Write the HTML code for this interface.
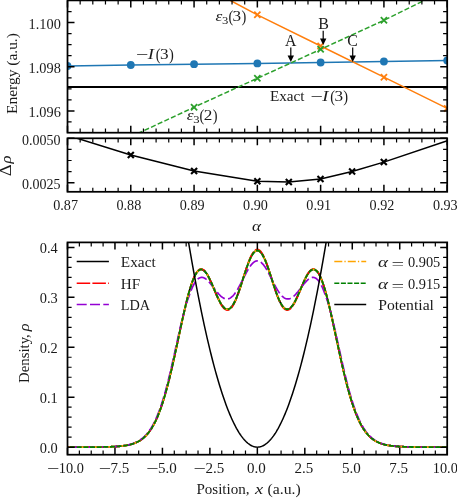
<!DOCTYPE html><html><head><meta charset="utf-8"><title>fig</title><style>html,body{margin:0;padding:0;background:#fff;}svg{display:block;will-change:transform;}text{font-family:"Liberation Serif",serif;fill:#1a1a1a;}</style></head><body>
<svg width="457" height="498" viewBox="0 0 457 498">
<rect x="0" y="0" width="457" height="498" fill="#fff"/>
<defs>
<clipPath id="c1"><rect x="67.5" y="0.4" width="379.7" height="132.29999999999998"/></clipPath>
<clipPath id="c2"><rect x="67.5" y="138.3" width="379.7" height="53.5"/></clipPath>
<clipPath id="c3"><rect x="67.5" y="242.4" width="379.7" height="212.29999999999998"/></clipPath>
</defs>
<g clip-path="url(#c1)">
<line x1="67.5" y1="87.05" x2="447.2" y2="87.05" stroke="#000" stroke-width="1.9"/>
<polyline points="67.50,66.0 130.78,65.0 194.07,64.2 257.35,63.4 320.63,62.5 383.92,61.5 447.20,60.5" fill="none" stroke="#1f77b4" stroke-width="1.5"/>
<circle cx="67.50" cy="66.0" r="3.9" fill="#1f77b4"/>
<circle cx="130.78" cy="65.0" r="3.9" fill="#1f77b4"/>
<circle cx="194.07" cy="64.2" r="3.9" fill="#1f77b4"/>
<circle cx="257.35" cy="63.4" r="3.9" fill="#1f77b4"/>
<circle cx="320.63" cy="62.5" r="3.9" fill="#1f77b4"/>
<circle cx="383.92" cy="61.5" r="3.9" fill="#1f77b4"/>
<circle cx="447.20" cy="60.5" r="3.9" fill="#1f77b4"/>
<polyline points="200.00,-15.90 230.50,0.50 257.35,14.80 320.63,46.00 383.92,77.20 447.20,108.40" fill="none" stroke="#ff7f0e" stroke-width="1.5"/>
<path d="M254.25 11.70L260.45 17.90M254.25 17.90L260.45 11.70" stroke="#ff7f0e" stroke-width="1.8" fill="none"/>
<path d="M317.53 42.90L323.73 49.10M317.53 49.10L323.73 42.90" stroke="#ff7f0e" stroke-width="1.8" fill="none"/>
<path d="M380.82 74.10L387.02 80.30M380.82 80.30L387.02 74.10" stroke="#ff7f0e" stroke-width="1.8" fill="none"/>
<path d="M444.10 105.30L450.30 111.50M444.10 111.50L450.30 105.30" stroke="#ff7f0e" stroke-width="1.8" fill="none"/>
<polyline points="100.00,151.30 139.50,132.70 194.07,107.20 257.35,78.30 320.63,49.30 383.92,20.30 424.00,0.50 447.20,-10.90" fill="none" stroke="#2ca02c" stroke-width="1.5" stroke-dasharray="5.1 2.25" stroke-dashoffset="2.4"/>
<path d="M190.97 104.10L197.17 110.30M190.97 110.30L197.17 104.10" stroke="#2ca02c" stroke-width="1.8" fill="none"/>
<path d="M254.25 75.20L260.45 81.40M254.25 81.40L260.45 75.20" stroke="#2ca02c" stroke-width="1.8" fill="none"/>
<path d="M317.53 46.20L323.73 52.40M317.53 52.40L323.73 46.20" stroke="#2ca02c" stroke-width="1.8" fill="none"/>
<path d="M380.82 17.20L387.02 23.40M380.82 23.40L387.02 17.20" stroke="#2ca02c" stroke-width="1.8" fill="none"/>
</g>
<line x1="290.8" y1="47.6" x2="290.8" y2="58.1" stroke="#000" stroke-width="1.2"/><path d="M287.6 55.6L294.0 55.6L290.8 62.1Z" fill="#000"/>
<line x1="323.2" y1="30.8" x2="323.2" y2="41.0" stroke="#000" stroke-width="1.2"/><path d="M320.0 38.5L326.4 38.5L323.2 45.0Z" fill="#000"/>
<line x1="352.7" y1="47.6" x2="352.7" y2="58.1" stroke="#000" stroke-width="1.2"/><path d="M349.5 55.6L355.9 55.6L352.7 62.1Z" fill="#000"/>
<text x="285.1" y="46.0" font-size="16.2" text-anchor="start" textLength="11.4" lengthAdjust="spacingAndGlyphs" >A</text>
<text x="318.34999999999997" y="28.7" font-size="16.2" text-anchor="start" textLength="10.7" lengthAdjust="spacingAndGlyphs" >B</text>
<text x="347.3" y="46.0" font-size="16.2" text-anchor="start" textLength="10.6" lengthAdjust="spacingAndGlyphs" >C</text>
<text x="136.0" y="59.8" font-size="15.6" text-anchor="start" textLength="12.4" lengthAdjust="spacingAndGlyphs" >−</text>
<text x="147.8" y="58.9" font-size="15.6" text-anchor="start" textLength="6.2" lengthAdjust="spacingAndGlyphs" ><tspan font-style="italic">I</tspan></text>
<text x="155.8" y="59.5" font-size="17.6" text-anchor="start" textLength="4.8" lengthAdjust="spacingAndGlyphs" >(</text>
<text x="160.0" y="58.9" font-size="15.6" text-anchor="start" textLength="8.6" lengthAdjust="spacingAndGlyphs" >3</text>
<text x="168.9" y="59.5" font-size="17.6" text-anchor="start" textLength="4.8" lengthAdjust="spacingAndGlyphs" >)</text>
<text x="215.6" y="21.0" font-size="15.6" text-anchor="start" textLength="6.8" lengthAdjust="spacingAndGlyphs" ><tspan font-style="italic">ε</tspan></text>
<text x="222.1" y="23.6" font-size="11" text-anchor="start" textLength="6.3" lengthAdjust="spacingAndGlyphs" >3</text>
<text x="228.4" y="21.6" font-size="17.6" text-anchor="start" textLength="4.8" lengthAdjust="spacingAndGlyphs" >(</text>
<text x="232.6" y="21.0" font-size="15.6" text-anchor="start" textLength="8.6" lengthAdjust="spacingAndGlyphs" >3</text>
<text x="241.5" y="21.6" font-size="17.6" text-anchor="start" textLength="4.8" lengthAdjust="spacingAndGlyphs" >)</text>
<text x="186.79999999999998" y="120.0" font-size="15.6" text-anchor="start" textLength="6.8" lengthAdjust="spacingAndGlyphs" ><tspan font-style="italic">ε</tspan></text>
<text x="193.29999999999998" y="122.6" font-size="11" text-anchor="start" textLength="6.3" lengthAdjust="spacingAndGlyphs" >3</text>
<text x="199.6" y="120.6" font-size="17.6" text-anchor="start" textLength="4.8" lengthAdjust="spacingAndGlyphs" >(</text>
<text x="203.79999999999998" y="120.0" font-size="15.6" text-anchor="start" textLength="8.6" lengthAdjust="spacingAndGlyphs" >2</text>
<text x="212.7" y="120.6" font-size="17.6" text-anchor="start" textLength="4.8" lengthAdjust="spacingAndGlyphs" >)</text>
<text x="269.9" y="101.1" font-size="15.6" text-anchor="start" textLength="34.6" lengthAdjust="spacingAndGlyphs" >Exact</text>
<text x="310.40000000000003" y="102.0" font-size="15.6" text-anchor="start" textLength="12.4" lengthAdjust="spacingAndGlyphs" >−</text>
<text x="322.2" y="101.1" font-size="15.6" text-anchor="start" textLength="6.2" lengthAdjust="spacingAndGlyphs" ><tspan font-style="italic">I</tspan></text>
<text x="330.20000000000005" y="101.69999999999999" font-size="17.6" text-anchor="start" textLength="4.8" lengthAdjust="spacingAndGlyphs" >(</text>
<text x="334.40000000000003" y="101.1" font-size="15.6" text-anchor="start" textLength="8.6" lengthAdjust="spacingAndGlyphs" >3</text>
<text x="343.3" y="101.69999999999999" font-size="17.6" text-anchor="start" textLength="4.8" lengthAdjust="spacingAndGlyphs" >)</text>
<g clip-path="url(#c2)">
<polyline points="67.5,135.3 130.8,155 194.1,171 257.35,181.2 288.8,182.0 320.5,179.0 352.1,171.5 383.8,162.1 447.3,140.8" fill="none" stroke="#000" stroke-width="1.5"/>
<path d="M127.80 152.00L133.80 158.00M127.80 158.00L133.80 152.00" stroke="#000" stroke-width="2.1" fill="none"/>
<path d="M191.10 168.00L197.10 174.00M191.10 174.00L197.10 168.00" stroke="#000" stroke-width="2.1" fill="none"/>
<path d="M254.35 178.20L260.35 184.20M254.35 184.20L260.35 178.20" stroke="#000" stroke-width="2.1" fill="none"/>
<path d="M285.80 179.00L291.80 185.00M285.80 185.00L291.80 179.00" stroke="#000" stroke-width="2.1" fill="none"/>
<path d="M317.50 176.00L323.50 182.00M317.50 182.00L323.50 176.00" stroke="#000" stroke-width="2.1" fill="none"/>
<path d="M349.10 168.50L355.10 174.50M349.10 174.50L355.10 168.50" stroke="#000" stroke-width="2.1" fill="none"/>
<path d="M380.80 159.10L386.80 165.10M380.80 165.10L386.80 159.10" stroke="#000" stroke-width="2.1" fill="none"/>
</g>
<g clip-path="url(#c3)">
<polyline points="67.50,447.15 67.97,447.15 68.45,447.15 68.92,447.15 69.40,447.15 69.87,447.15 70.35,447.15 70.82,447.15 71.30,447.15 71.77,447.15 72.25,447.15 72.72,447.15 73.20,447.15 73.67,447.15 74.14,447.15 74.62,447.15 75.09,447.15 75.57,447.15 76.04,447.14 76.52,447.14 76.99,447.14 77.47,447.14 77.94,447.14 78.42,447.14 78.89,447.14 79.37,447.14 79.84,447.14 80.31,447.14 80.79,447.14 81.26,447.14 81.74,447.14 82.21,447.14 82.69,447.14 83.16,447.14 83.64,447.13 84.11,447.13 84.59,447.13 85.06,447.13 85.54,447.13 86.01,447.13 86.49,447.13 86.96,447.13 87.43,447.12 87.91,447.12 88.38,447.12 88.86,447.12 89.33,447.12 89.81,447.12 90.28,447.11 90.76,447.11 91.23,447.11 91.71,447.11 92.18,447.10 92.66,447.10 93.13,447.10 93.60,447.10 94.08,447.09 94.55,447.09 95.03,447.09 95.50,447.08 95.98,447.08 96.45,447.07 96.93,447.07 97.40,447.06 97.88,447.06 98.35,447.05 98.83,447.05 99.30,447.04 99.77,447.04 100.25,447.03 100.72,447.03 101.20,447.02 101.67,447.01 102.15,447.00 102.62,447.00 103.10,446.99 103.57,446.98 104.05,446.97 104.52,446.96 105.00,446.95 105.47,446.94 105.94,446.93 106.42,446.92 106.89,446.90 107.37,446.89 107.84,446.88 108.32,446.86 108.79,446.85 109.27,446.83 109.74,446.82 110.22,446.80 110.69,446.78 111.17,446.76 111.64,446.74 112.11,446.72 112.59,446.70 113.06,446.68 113.54,446.66 114.01,446.63 114.49,446.60 114.96,446.58 115.44,446.55 115.91,446.52 116.39,446.49 116.86,446.46 117.34,446.42 117.81,446.39 118.28,446.35 118.76,446.31 119.23,446.27 119.71,446.23 120.18,446.18 120.66,446.13 121.13,446.08 121.61,446.03 122.08,445.98 122.56,445.92 123.03,445.86 123.51,445.80 123.98,445.74 124.46,445.67 124.93,445.60 125.40,445.52 125.88,445.45 126.35,445.36 126.83,445.28 127.30,445.19 127.78,445.10 128.25,445.00 128.73,444.90 129.20,444.79 129.68,444.68 130.15,444.56 130.63,444.44 131.10,444.31 131.57,444.17 132.05,444.03 132.52,443.89 133.00,443.73 133.47,443.57 133.95,443.40 134.42,443.23 134.90,443.05 135.37,442.85 135.85,442.65 136.32,442.44 136.80,442.23 137.27,442.00 137.74,441.76 138.22,441.51 138.69,441.25 139.17,440.98 139.64,440.70 140.12,440.41 140.59,440.10 141.07,439.78 141.54,439.45 142.02,439.10 142.49,438.74 142.97,438.36 143.44,437.97 143.91,437.56 144.39,437.13 144.86,436.69 145.34,436.23 145.81,435.76 146.29,435.26 146.76,434.74 147.24,434.21 147.71,433.65 148.19,433.08 148.66,432.48 149.14,431.86 149.61,431.22 150.08,430.55 150.56,429.86 151.03,429.15 151.51,428.41 151.98,427.64 152.46,426.85 152.93,426.03 153.41,425.19 153.88,424.32 154.36,423.42 154.83,422.49 155.31,421.53 155.78,420.54 156.25,419.52 156.73,418.47 157.20,417.39 157.68,416.28 158.15,415.13 158.63,413.96 159.10,412.75 159.58,411.51 160.05,410.23 160.53,408.93 161.00,407.59 161.48,406.21 161.95,404.80 162.43,403.36 162.90,401.89 163.37,400.38 163.85,398.84 164.32,397.26 164.80,395.65 165.27,394.01 165.75,392.33 166.22,390.62 166.70,388.88 167.17,387.11 167.65,385.31 168.12,383.47 168.60,381.61 169.07,379.72 169.54,377.80 170.02,375.85 170.49,373.87 170.97,371.87 171.44,369.85 171.92,367.80 172.39,365.72 172.87,363.63 173.34,361.52 173.82,359.39 174.29,357.24 174.77,355.07 175.24,352.89 175.71,350.70 176.19,348.50 176.66,346.29 177.14,344.07 177.61,341.84 178.09,339.62 178.56,337.39 179.04,335.16 179.51,332.93 179.99,330.71 180.46,328.49 180.94,326.28 181.41,324.09 181.88,321.90 182.36,319.74 182.83,317.59 183.31,315.46 183.78,313.35 184.26,311.27 184.73,309.21 185.21,307.18 185.68,305.19 186.16,303.23 186.63,301.30 187.11,299.41 187.58,297.57 188.05,295.76 188.53,294.00 189.00,292.29 189.48,290.63 189.95,289.02 190.43,287.46 190.90,285.96 191.38,284.51 191.85,283.12 192.33,281.79 192.80,280.53 193.28,279.32 193.75,278.19 194.22,277.11 194.70,276.11 195.17,275.17 195.65,274.30 196.12,273.50 196.60,272.78 197.07,272.12 197.55,271.54 198.02,271.02 198.50,270.58 198.97,270.21 199.45,269.92 199.92,269.69 200.40,269.54 200.87,269.45 201.34,269.44 201.82,269.50 202.29,269.62 202.77,269.82 203.24,270.08 203.72,270.40 204.19,270.78 204.67,271.23 205.14,271.74 205.62,272.30 206.09,272.92 206.57,273.60 207.04,274.32 207.51,275.09 207.99,275.91 208.46,276.77 208.94,277.67 209.41,278.61 209.89,279.58 210.36,280.58 210.84,281.61 211.31,282.66 211.79,283.73 212.26,284.83 212.74,285.93 213.21,287.04 213.68,288.17 214.16,289.29 214.63,290.41 215.11,291.53 215.58,292.65 216.06,293.75 216.53,294.83 217.01,295.90 217.48,296.95 217.96,297.97 218.43,298.96 218.91,299.93 219.38,300.86 219.85,301.75 220.33,302.60 220.80,303.41 221.28,304.18 221.75,304.90 222.23,305.57 222.70,306.19 223.18,306.76 223.65,307.28 224.13,307.73 224.60,308.13 225.08,308.48 225.55,308.76 226.02,308.98 226.50,309.14 226.97,309.23 227.45,309.27 227.92,309.24 228.40,309.14 228.87,308.98 229.35,308.75 229.82,308.46 230.30,308.10 230.77,307.68 231.25,307.20 231.72,306.65 232.19,306.03 232.67,305.36 233.14,304.62 233.62,303.82 234.09,302.96 234.57,302.04 235.04,301.07 235.52,300.05 235.99,298.97 236.47,297.84 236.94,296.67 237.42,295.45 237.89,294.19 238.37,292.90 238.84,291.57 239.31,290.20 239.79,288.81 240.26,287.40 240.74,285.96 241.21,284.50 241.69,283.03 242.16,281.56 242.64,280.07 243.11,278.59 243.59,277.10 244.06,275.62 244.54,274.16 245.01,272.70 245.48,271.26 245.96,269.85 246.43,268.46 246.91,267.10 247.38,265.77 247.86,264.47 248.33,263.22 248.81,262.01 249.28,260.85 249.76,259.73 250.23,258.67 250.71,257.66 251.18,256.71 251.65,255.81 252.13,254.98 252.60,254.22 253.08,253.52 253.55,252.89 254.03,252.33 254.50,251.84 254.98,251.43 255.45,251.09 255.93,250.82 256.40,250.63 256.88,250.52 257.35,250.48 257.82,250.52 258.30,250.63 258.77,250.82 259.25,251.09 259.72,251.43 260.20,251.84 260.67,252.33 261.15,252.89 261.62,253.52 262.10,254.22 262.57,254.98 263.05,255.81 263.52,256.71 263.99,257.66 264.47,258.67 264.94,259.73 265.42,260.85 265.89,262.01 266.37,263.22 266.84,264.47 267.32,265.77 267.79,267.10 268.27,268.46 268.74,269.85 269.22,271.26 269.69,272.70 270.16,274.16 270.64,275.62 271.11,277.10 271.59,278.59 272.06,280.07 272.54,281.56 273.01,283.03 273.49,284.50 273.96,285.96 274.44,287.40 274.91,288.81 275.39,290.20 275.86,291.57 276.34,292.90 276.81,294.19 277.28,295.45 277.76,296.67 278.23,297.84 278.71,298.97 279.18,300.05 279.66,301.07 280.13,302.04 280.61,302.96 281.08,303.82 281.56,304.62 282.03,305.36 282.51,306.03 282.98,306.65 283.45,307.20 283.93,307.68 284.40,308.10 284.88,308.46 285.35,308.75 285.83,308.98 286.30,309.14 286.78,309.24 287.25,309.27 287.73,309.23 288.20,309.14 288.68,308.98 289.15,308.76 289.62,308.48 290.10,308.13 290.57,307.73 291.05,307.28 291.52,306.76 292.00,306.19 292.47,305.57 292.95,304.90 293.42,304.18 293.90,303.41 294.37,302.60 294.85,301.75 295.32,300.86 295.79,299.93 296.27,298.96 296.74,297.97 297.22,296.95 297.69,295.90 298.17,294.83 298.64,293.75 299.12,292.65 299.59,291.53 300.07,290.41 300.54,289.29 301.02,288.17 301.49,287.04 301.96,285.93 302.44,284.83 302.91,283.73 303.39,282.66 303.86,281.61 304.34,280.58 304.81,279.58 305.29,278.61 305.76,277.67 306.24,276.77 306.71,275.91 307.19,275.09 307.66,274.32 308.13,273.60 308.61,272.92 309.08,272.30 309.56,271.74 310.03,271.23 310.51,270.78 310.98,270.40 311.46,270.08 311.93,269.82 312.41,269.62 312.88,269.50 313.36,269.44 313.83,269.45 314.31,269.54 314.78,269.69 315.25,269.92 315.73,270.21 316.20,270.58 316.68,271.02 317.15,271.54 317.63,272.12 318.10,272.78 318.58,273.50 319.05,274.30 319.53,275.17 320.00,276.11 320.48,277.11 320.95,278.19 321.42,279.32 321.90,280.53 322.37,281.79 322.85,283.12 323.32,284.51 323.80,285.96 324.27,287.46 324.75,289.02 325.22,290.63 325.70,292.29 326.17,294.00 326.65,295.76 327.12,297.57 327.59,299.41 328.07,301.30 328.54,303.23 329.02,305.19 329.49,307.18 329.97,309.21 330.44,311.27 330.92,313.35 331.39,315.46 331.87,317.59 332.34,319.74 332.82,321.90 333.29,324.09 333.76,326.28 334.24,328.49 334.71,330.71 335.19,332.93 335.66,335.16 336.14,337.39 336.61,339.62 337.09,341.84 337.56,344.07 338.04,346.29 338.51,348.50 338.99,350.70 339.46,352.89 339.93,355.07 340.41,357.24 340.88,359.39 341.36,361.52 341.83,363.63 342.31,365.72 342.78,367.80 343.26,369.85 343.73,371.87 344.21,373.87 344.68,375.85 345.16,377.80 345.63,379.72 346.10,381.61 346.58,383.47 347.05,385.31 347.53,387.11 348.00,388.88 348.48,390.62 348.95,392.33 349.43,394.01 349.90,395.65 350.38,397.26 350.85,398.84 351.33,400.38 351.80,401.89 352.28,403.36 352.75,404.80 353.22,406.21 353.70,407.59 354.17,408.93 354.65,410.23 355.12,411.51 355.60,412.75 356.07,413.96 356.55,415.13 357.02,416.28 357.50,417.39 357.97,418.47 358.45,419.52 358.92,420.54 359.39,421.53 359.87,422.49 360.34,423.42 360.82,424.32 361.29,425.19 361.77,426.03 362.24,426.85 362.72,427.64 363.19,428.41 363.67,429.15 364.14,429.86 364.62,430.55 365.09,431.22 365.56,431.86 366.04,432.48 366.51,433.08 366.99,433.65 367.46,434.21 367.94,434.74 368.41,435.26 368.89,435.76 369.36,436.23 369.84,436.69 370.31,437.13 370.79,437.56 371.26,437.97 371.73,438.36 372.21,438.74 372.68,439.10 373.16,439.45 373.63,439.78 374.11,440.10 374.58,440.41 375.06,440.70 375.53,440.98 376.01,441.25 376.48,441.51 376.96,441.76 377.43,442.00 377.90,442.23 378.38,442.44 378.85,442.65 379.33,442.85 379.80,443.05 380.28,443.23 380.75,443.40 381.23,443.57 381.70,443.73 382.18,443.89 382.65,444.03 383.13,444.17 383.60,444.31 384.07,444.44 384.55,444.56 385.02,444.68 385.50,444.79 385.97,444.90 386.45,445.00 386.92,445.10 387.40,445.19 387.87,445.28 388.35,445.36 388.82,445.45 389.30,445.52 389.77,445.60 390.25,445.67 390.72,445.74 391.19,445.80 391.67,445.86 392.14,445.92 392.62,445.98 393.09,446.03 393.57,446.08 394.04,446.13 394.52,446.18 394.99,446.23 395.47,446.27 395.94,446.31 396.42,446.35 396.89,446.39 397.36,446.42 397.84,446.46 398.31,446.49 398.79,446.52 399.26,446.55 399.74,446.58 400.21,446.60 400.69,446.63 401.16,446.66 401.64,446.68 402.11,446.70 402.59,446.72 403.06,446.74 403.53,446.76 404.01,446.78 404.48,446.80 404.96,446.82 405.43,446.83 405.91,446.85 406.38,446.86 406.86,446.88 407.33,446.89 407.81,446.90 408.28,446.92 408.76,446.93 409.23,446.94 409.70,446.95 410.18,446.96 410.65,446.97 411.13,446.98 411.60,446.99 412.08,447.00 412.55,447.00 413.03,447.01 413.50,447.02 413.98,447.03 414.45,447.03 414.93,447.04 415.40,447.04 415.87,447.05 416.35,447.05 416.82,447.06 417.30,447.06 417.77,447.07 418.25,447.07 418.72,447.08 419.20,447.08 419.67,447.09 420.15,447.09 420.62,447.09 421.10,447.10 421.57,447.10 422.04,447.10 422.52,447.10 422.99,447.11 423.47,447.11 423.94,447.11 424.42,447.11 424.89,447.12 425.37,447.12 425.84,447.12 426.32,447.12 426.79,447.12 427.27,447.12 427.74,447.13 428.22,447.13 428.69,447.13 429.16,447.13 429.64,447.13 430.11,447.13 430.59,447.13 431.06,447.13 431.54,447.14 432.01,447.14 432.49,447.14 432.96,447.14 433.44,447.14 433.91,447.14 434.39,447.14 434.86,447.14 435.33,447.14 435.81,447.14 436.28,447.14 436.76,447.14 437.23,447.14 437.71,447.14 438.18,447.14 438.66,447.14 439.13,447.15 439.61,447.15 440.08,447.15 440.56,447.15 441.03,447.15 441.50,447.15 441.98,447.15 442.45,447.15 442.93,447.15 443.40,447.15 443.88,447.15 444.35,447.15 444.83,447.15 445.30,447.15 445.78,447.15 446.25,447.15 446.73,447.15 447.20,447.15" fill="none" stroke="#000" stroke-width="1.8"/>
<polyline points="67.50,447.15 67.97,447.15 68.45,447.15 68.92,447.15 69.40,447.15 69.87,447.15 70.35,447.15 70.82,447.15 71.30,447.15 71.77,447.15 72.25,447.15 72.72,447.15 73.20,447.15 73.67,447.15 74.14,447.15 74.62,447.15 75.09,447.15 75.57,447.15 76.04,447.14 76.52,447.14 76.99,447.14 77.47,447.14 77.94,447.14 78.42,447.14 78.89,447.14 79.37,447.14 79.84,447.14 80.31,447.14 80.79,447.14 81.26,447.14 81.74,447.14 82.21,447.14 82.69,447.14 83.16,447.14 83.64,447.13 84.11,447.13 84.59,447.13 85.06,447.13 85.54,447.13 86.01,447.13 86.49,447.13 86.96,447.13 87.43,447.12 87.91,447.12 88.38,447.12 88.86,447.12 89.33,447.12 89.81,447.12 90.28,447.11 90.76,447.11 91.23,447.11 91.71,447.11 92.18,447.10 92.66,447.10 93.13,447.10 93.60,447.10 94.08,447.09 94.55,447.09 95.03,447.09 95.50,447.08 95.98,447.08 96.45,447.07 96.93,447.07 97.40,447.06 97.88,447.06 98.35,447.05 98.83,447.05 99.30,447.04 99.77,447.04 100.25,447.03 100.72,447.03 101.20,447.02 101.67,447.01 102.15,447.00 102.62,447.00 103.10,446.99 103.57,446.98 104.05,446.97 104.52,446.96 105.00,446.95 105.47,446.94 105.94,446.93 106.42,446.92 106.89,446.90 107.37,446.89 107.84,446.88 108.32,446.86 108.79,446.85 109.27,446.83 109.74,446.82 110.22,446.80 110.69,446.78 111.17,446.76 111.64,446.74 112.11,446.72 112.59,446.70 113.06,446.68 113.54,446.66 114.01,446.63 114.49,446.60 114.96,446.58 115.44,446.55 115.91,446.52 116.39,446.49 116.86,446.46 117.34,446.42 117.81,446.39 118.28,446.35 118.76,446.31 119.23,446.27 119.71,446.23 120.18,446.18 120.66,446.13 121.13,446.08 121.61,446.03 122.08,445.98 122.56,445.92 123.03,445.86 123.51,445.80 123.98,445.74 124.46,445.67 124.93,445.60 125.40,445.52 125.88,445.45 126.35,445.36 126.83,445.28 127.30,445.19 127.78,445.10 128.25,445.00 128.73,444.90 129.20,444.79 129.68,444.68 130.15,444.56 130.63,444.44 131.10,444.31 131.57,444.17 132.05,444.03 132.52,443.89 133.00,443.73 133.47,443.57 133.95,443.40 134.42,443.23 134.90,443.05 135.37,442.85 135.85,442.65 136.32,442.44 136.80,442.23 137.27,442.00 137.74,441.76 138.22,441.51 138.69,441.25 139.17,440.98 139.64,440.70 140.12,440.41 140.59,440.10 141.07,439.78 141.54,439.45 142.02,439.10 142.49,438.74 142.97,438.36 143.44,437.97 143.91,437.56 144.39,437.13 144.86,436.69 145.34,436.23 145.81,435.76 146.29,435.26 146.76,434.74 147.24,434.21 147.71,433.65 148.19,433.08 148.66,432.48 149.14,431.86 149.61,431.22 150.08,430.55 150.56,429.86 151.03,429.15 151.51,428.41 151.98,427.64 152.46,426.85 152.93,426.03 153.41,425.19 153.88,424.32 154.36,423.42 154.83,422.49 155.31,421.53 155.78,420.54 156.25,419.52 156.73,418.47 157.20,417.39 157.68,416.28 158.15,415.13 158.63,413.96 159.10,412.75 159.58,411.51 160.05,410.23 160.53,408.93 161.00,407.59 161.48,406.21 161.95,404.80 162.43,403.36 162.90,401.89 163.37,400.38 163.85,398.84 164.32,397.26 164.80,395.65 165.27,394.01 165.75,392.33 166.22,390.62 166.70,388.88 167.17,387.11 167.65,385.31 168.12,383.47 168.60,381.61 169.07,379.72 169.54,377.80 170.02,375.85 170.49,373.87 170.97,371.87 171.44,369.85 171.92,367.80 172.39,365.72 172.87,363.63 173.34,361.52 173.82,359.39 174.29,357.24 174.77,355.07 175.24,352.89 175.71,350.70 176.19,348.50 176.66,346.29 177.14,344.07 177.61,341.84 178.09,339.67 178.56,337.49 179.04,335.31 179.51,333.12 179.99,330.93 180.46,328.75 180.94,326.57 181.41,324.40 181.88,322.24 182.36,320.09 182.83,317.95 183.31,315.83 183.78,313.73 184.26,311.65 184.73,309.59 185.21,307.56 185.68,305.55 186.16,303.58 186.63,301.64 187.11,299.73 187.58,297.87 188.05,296.04 188.53,294.26 189.00,292.52 189.48,290.82 189.95,289.18 190.43,287.59 190.90,286.05 191.38,284.57 191.85,283.14 192.33,281.78 192.80,280.47 193.28,279.23 193.75,278.06 194.22,276.96 194.70,275.92 195.17,274.96 195.65,274.06 196.12,273.24 196.60,272.49 197.07,271.81 197.55,271.21 198.02,270.68 198.50,270.23 198.97,269.85 199.45,269.54 199.92,269.31 200.40,269.15 200.87,269.07 201.34,269.05 201.82,269.11 202.29,269.24 202.77,269.44 203.24,269.71 203.72,270.04 204.19,270.44 204.67,270.90 205.14,271.42 205.62,272.00 206.09,272.64 206.57,273.33 207.04,274.08 207.51,274.87 207.99,275.72 208.46,276.60 208.94,277.53 209.41,278.49 209.89,279.49 210.36,280.53 210.84,281.59 211.31,282.67 211.79,283.78 212.26,284.90 212.74,286.04 213.21,287.19 213.68,288.34 214.16,289.50 214.63,290.66 215.11,291.81 215.58,292.96 216.06,294.09 216.53,295.21 217.01,296.31 217.48,297.39 217.96,298.44 218.43,299.46 218.91,300.45 219.38,301.41 219.85,302.33 220.33,303.21 220.80,304.05 221.28,304.84 221.75,305.58 222.23,306.27 222.70,306.91 223.18,307.49 223.65,308.02 224.13,308.49 224.60,308.91 225.08,309.26 225.55,309.55 226.02,309.78 226.50,309.94 226.97,310.04 227.45,310.07 227.92,310.04 228.40,309.94 228.87,309.78 229.35,309.54 229.82,309.24 230.30,308.88 230.77,308.44 231.25,307.94 231.72,307.38 232.19,306.74 232.67,306.05 233.14,305.28 233.62,304.46 234.09,303.58 234.57,302.63 235.04,301.63 235.52,300.58 235.99,299.47 236.47,298.31 236.94,297.10 237.42,295.85 237.89,294.55 238.37,293.21 238.84,291.84 239.31,290.44 239.79,289.01 240.26,287.55 240.74,286.07 241.21,284.57 241.69,283.06 242.16,281.53 242.64,280.00 243.11,278.47 243.59,276.94 244.06,275.42 244.54,273.91 245.01,272.41 245.48,270.93 245.96,269.47 246.43,268.04 246.91,266.64 247.38,265.27 247.86,263.94 248.33,262.65 248.81,261.40 249.28,260.20 249.76,259.05 250.23,257.96 250.71,256.92 251.18,255.94 251.65,255.02 252.13,254.16 252.60,253.38 253.08,252.66 253.55,252.01 254.03,251.43 254.50,250.93 254.98,250.50 255.45,250.15 255.93,249.88 256.40,249.68 256.88,249.56 257.35,249.52 257.82,249.56 258.30,249.68 258.77,249.88 259.25,250.15 259.72,250.50 260.20,250.93 260.67,251.43 261.15,252.01 261.62,252.66 262.10,253.38 262.57,254.16 263.05,255.02 263.52,255.94 263.99,256.92 264.47,257.96 264.94,259.05 265.42,260.20 265.89,261.40 266.37,262.65 266.84,263.94 267.32,265.27 267.79,266.64 268.27,268.04 268.74,269.47 269.22,270.93 269.69,272.41 270.16,273.91 270.64,275.42 271.11,276.94 271.59,278.47 272.06,280.00 272.54,281.53 273.01,283.06 273.49,284.57 273.96,286.07 274.44,287.55 274.91,289.01 275.39,290.44 275.86,291.84 276.34,293.21 276.81,294.55 277.28,295.85 277.76,297.10 278.23,298.31 278.71,299.47 279.18,300.58 279.66,301.63 280.13,302.63 280.61,303.58 281.08,304.46 281.56,305.28 282.03,306.05 282.51,306.74 282.98,307.38 283.45,307.94 283.93,308.44 284.40,308.88 284.88,309.24 285.35,309.54 285.83,309.78 286.30,309.94 286.78,310.04 287.25,310.07 287.73,310.04 288.20,309.94 288.68,309.78 289.15,309.55 289.62,309.26 290.10,308.91 290.57,308.49 291.05,308.02 291.52,307.49 292.00,306.91 292.47,306.27 292.95,305.58 293.42,304.84 293.90,304.05 294.37,303.21 294.85,302.33 295.32,301.41 295.79,300.45 296.27,299.46 296.74,298.44 297.22,297.39 297.69,296.31 298.17,295.21 298.64,294.09 299.12,292.96 299.59,291.81 300.07,290.66 300.54,289.50 301.02,288.34 301.49,287.19 301.96,286.04 302.44,284.90 302.91,283.78 303.39,282.67 303.86,281.59 304.34,280.53 304.81,279.49 305.29,278.49 305.76,277.53 306.24,276.60 306.71,275.72 307.19,274.87 307.66,274.08 308.13,273.33 308.61,272.64 309.08,272.00 309.56,271.42 310.03,270.90 310.51,270.44 310.98,270.04 311.46,269.71 311.93,269.44 312.41,269.24 312.88,269.11 313.36,269.05 313.83,269.07 314.31,269.15 314.78,269.31 315.25,269.54 315.73,269.85 316.20,270.23 316.68,270.68 317.15,271.21 317.63,271.81 318.10,272.49 318.58,273.24 319.05,274.06 319.53,274.96 320.00,275.92 320.48,276.96 320.95,278.06 321.42,279.23 321.90,280.47 322.37,281.78 322.85,283.14 323.32,284.57 323.80,286.05 324.27,287.59 324.75,289.18 325.22,290.82 325.70,292.52 326.17,294.26 326.65,296.04 327.12,297.87 327.59,299.73 328.07,301.64 328.54,303.58 329.02,305.55 329.49,307.56 329.97,309.59 330.44,311.65 330.92,313.73 331.39,315.83 331.87,317.95 332.34,320.09 332.82,322.24 333.29,324.40 333.76,326.57 334.24,328.75 334.71,330.93 335.19,333.12 335.66,335.31 336.14,337.49 336.61,339.67 337.09,341.84 337.56,344.07 338.04,346.29 338.51,348.50 338.99,350.70 339.46,352.89 339.93,355.07 340.41,357.24 340.88,359.39 341.36,361.52 341.83,363.63 342.31,365.72 342.78,367.80 343.26,369.85 343.73,371.87 344.21,373.87 344.68,375.85 345.16,377.80 345.63,379.72 346.10,381.61 346.58,383.47 347.05,385.31 347.53,387.11 348.00,388.88 348.48,390.62 348.95,392.33 349.43,394.01 349.90,395.65 350.38,397.26 350.85,398.84 351.33,400.38 351.80,401.89 352.28,403.36 352.75,404.80 353.22,406.21 353.70,407.59 354.17,408.93 354.65,410.23 355.12,411.51 355.60,412.75 356.07,413.96 356.55,415.13 357.02,416.28 357.50,417.39 357.97,418.47 358.45,419.52 358.92,420.54 359.39,421.53 359.87,422.49 360.34,423.42 360.82,424.32 361.29,425.19 361.77,426.03 362.24,426.85 362.72,427.64 363.19,428.41 363.67,429.15 364.14,429.86 364.62,430.55 365.09,431.22 365.56,431.86 366.04,432.48 366.51,433.08 366.99,433.65 367.46,434.21 367.94,434.74 368.41,435.26 368.89,435.76 369.36,436.23 369.84,436.69 370.31,437.13 370.79,437.56 371.26,437.97 371.73,438.36 372.21,438.74 372.68,439.10 373.16,439.45 373.63,439.78 374.11,440.10 374.58,440.41 375.06,440.70 375.53,440.98 376.01,441.25 376.48,441.51 376.96,441.76 377.43,442.00 377.90,442.23 378.38,442.44 378.85,442.65 379.33,442.85 379.80,443.05 380.28,443.23 380.75,443.40 381.23,443.57 381.70,443.73 382.18,443.89 382.65,444.03 383.13,444.17 383.60,444.31 384.07,444.44 384.55,444.56 385.02,444.68 385.50,444.79 385.97,444.90 386.45,445.00 386.92,445.10 387.40,445.19 387.87,445.28 388.35,445.36 388.82,445.45 389.30,445.52 389.77,445.60 390.25,445.67 390.72,445.74 391.19,445.80 391.67,445.86 392.14,445.92 392.62,445.98 393.09,446.03 393.57,446.08 394.04,446.13 394.52,446.18 394.99,446.23 395.47,446.27 395.94,446.31 396.42,446.35 396.89,446.39 397.36,446.42 397.84,446.46 398.31,446.49 398.79,446.52 399.26,446.55 399.74,446.58 400.21,446.60 400.69,446.63 401.16,446.66 401.64,446.68 402.11,446.70 402.59,446.72 403.06,446.74 403.53,446.76 404.01,446.78 404.48,446.80 404.96,446.82 405.43,446.83 405.91,446.85 406.38,446.86 406.86,446.88 407.33,446.89 407.81,446.90 408.28,446.92 408.76,446.93 409.23,446.94 409.70,446.95 410.18,446.96 410.65,446.97 411.13,446.98 411.60,446.99 412.08,447.00 412.55,447.00 413.03,447.01 413.50,447.02 413.98,447.03 414.45,447.03 414.93,447.04 415.40,447.04 415.87,447.05 416.35,447.05 416.82,447.06 417.30,447.06 417.77,447.07 418.25,447.07 418.72,447.08 419.20,447.08 419.67,447.09 420.15,447.09 420.62,447.09 421.10,447.10 421.57,447.10 422.04,447.10 422.52,447.10 422.99,447.11 423.47,447.11 423.94,447.11 424.42,447.11 424.89,447.12 425.37,447.12 425.84,447.12 426.32,447.12 426.79,447.12 427.27,447.12 427.74,447.13 428.22,447.13 428.69,447.13 429.16,447.13 429.64,447.13 430.11,447.13 430.59,447.13 431.06,447.13 431.54,447.14 432.01,447.14 432.49,447.14 432.96,447.14 433.44,447.14 433.91,447.14 434.39,447.14 434.86,447.14 435.33,447.14 435.81,447.14 436.28,447.14 436.76,447.14 437.23,447.14 437.71,447.14 438.18,447.14 438.66,447.14 439.13,447.15 439.61,447.15 440.08,447.15 440.56,447.15 441.03,447.15 441.50,447.15 441.98,447.15 442.45,447.15 442.93,447.15 443.40,447.15 443.88,447.15 444.35,447.15 444.83,447.15 445.30,447.15 445.78,447.15 446.25,447.15 446.73,447.15 447.20,447.15" fill="none" stroke="#ff0000" stroke-width="1.8" stroke-dasharray="13.5 2.2"/>
<polyline points="67.50,447.15 67.97,447.15 68.45,447.15 68.92,447.15 69.40,447.15 69.87,447.15 70.35,447.15 70.82,447.15 71.30,447.15 71.77,447.15 72.25,447.15 72.72,447.15 73.20,447.15 73.67,447.15 74.14,447.15 74.62,447.15 75.09,447.14 75.57,447.14 76.04,447.14 76.52,447.14 76.99,447.14 77.47,447.14 77.94,447.14 78.42,447.14 78.89,447.14 79.37,447.14 79.84,447.14 80.31,447.14 80.79,447.14 81.26,447.14 81.74,447.14 82.21,447.14 82.69,447.14 83.16,447.13 83.64,447.13 84.11,447.13 84.59,447.13 85.06,447.13 85.54,447.13 86.01,447.13 86.49,447.13 86.96,447.12 87.43,447.12 87.91,447.12 88.38,447.12 88.86,447.12 89.33,447.12 89.81,447.11 90.28,447.11 90.76,447.11 91.23,447.11 91.71,447.10 92.18,447.10 92.66,447.10 93.13,447.09 93.60,447.09 94.08,447.09 94.55,447.08 95.03,447.08 95.50,447.08 95.98,447.07 96.45,447.07 96.93,447.06 97.40,447.06 97.88,447.05 98.35,447.05 98.83,447.04 99.30,447.04 99.77,447.03 100.25,447.02 100.72,447.02 101.20,447.01 101.67,447.00 102.15,446.99 102.62,446.98 103.10,446.97 103.57,446.97 104.05,446.96 104.52,446.95 105.00,446.93 105.47,446.92 105.94,446.91 106.42,446.90 106.89,446.89 107.37,446.87 107.84,446.86 108.32,446.84 108.79,446.83 109.27,446.81 109.74,446.79 110.22,446.77 110.69,446.76 111.17,446.74 111.64,446.71 112.11,446.69 112.59,446.67 113.06,446.65 113.54,446.62 114.01,446.59 114.49,446.57 114.96,446.54 115.44,446.51 115.91,446.48 116.39,446.44 116.86,446.41 117.34,446.37 117.81,446.33 118.28,446.29 118.76,446.25 119.23,446.21 119.71,446.16 120.18,446.11 120.66,446.06 121.13,446.01 121.61,445.96 122.08,445.90 122.56,445.84 123.03,445.78 123.51,445.71 123.98,445.64 124.46,445.57 124.93,445.49 125.40,445.41 125.88,445.33 126.35,445.24 126.83,445.15 127.30,445.06 127.78,444.96 128.25,444.85 128.73,444.74 129.20,444.63 129.68,444.51 130.15,444.39 130.63,444.25 131.10,444.12 131.57,443.98 132.05,443.83 132.52,443.67 133.00,443.51 133.47,443.34 133.95,443.16 134.42,442.97 134.90,442.77 135.37,442.57 135.85,442.36 136.32,442.14 136.80,441.90 137.27,441.66 137.74,441.41 138.22,441.15 138.69,440.87 139.17,440.58 139.64,440.28 140.12,439.97 140.59,439.65 141.07,439.31 141.54,438.95 142.02,438.59 142.49,438.20 142.97,437.81 143.44,437.39 143.91,436.96 144.39,436.51 144.86,436.04 145.34,435.56 145.81,435.06 146.29,434.53 146.76,433.99 147.24,433.42 147.71,432.84 148.19,432.23 148.66,431.60 149.14,430.95 149.61,430.28 150.08,429.58 150.56,428.85 151.03,428.10 151.51,427.33 151.98,426.53 152.46,425.70 152.93,424.84 153.41,423.96 153.88,423.05 154.36,422.11 154.83,421.14 155.31,420.13 155.78,419.10 156.25,418.04 156.73,416.95 157.20,415.82 157.68,414.67 158.15,413.48 158.63,412.26 159.10,411.00 159.58,409.72 160.05,408.40 160.53,407.04 161.00,405.65 161.48,404.23 161.95,402.78 162.43,401.29 162.90,399.77 163.37,398.21 163.85,396.62 164.32,395.00 164.80,393.34 165.27,391.65 165.75,389.93 166.22,388.18 166.70,386.39 167.17,384.58 167.65,382.73 168.12,380.86 168.60,378.95 169.07,377.02 169.54,375.06 170.02,373.08 170.49,371.06 170.97,369.03 171.44,366.97 171.92,364.89 172.39,362.79 172.87,360.67 173.34,358.53 173.82,356.37 174.29,354.24 174.77,352.09 175.24,349.94 175.71,347.78 176.19,345.62 176.66,343.47 177.14,341.31 177.61,339.16 178.09,337.02 178.56,334.89 179.04,332.77 179.51,330.67 179.99,328.59 180.46,326.53 180.94,324.50 181.41,322.49 181.88,320.51 182.36,318.57 182.83,316.66 183.31,314.79 183.78,312.96 184.26,311.18 184.73,309.44 185.21,307.74 185.68,306.10 186.16,304.51 186.63,302.97 187.11,301.49 187.58,300.06 188.05,298.69 188.53,297.38 189.00,296.13 189.48,294.75 189.95,293.41 190.43,292.12 190.90,290.89 191.38,289.71 191.85,288.58 192.33,287.50 192.80,286.48 193.28,285.51 193.75,284.60 194.22,283.74 194.70,282.94 195.17,282.20 195.65,281.51 196.12,280.87 196.60,280.29 197.07,279.77 197.55,279.30 198.02,278.88 198.50,278.52 198.97,278.21 199.45,277.95 199.92,277.75 200.40,277.59 200.87,277.48 201.34,277.42 201.82,277.41 202.29,277.45 202.77,277.52 203.24,277.65 203.72,277.81 204.19,278.01 204.67,278.25 205.14,278.53 205.62,278.84 206.09,279.19 206.57,279.57 207.04,279.98 207.51,280.41 207.99,280.87 208.46,281.36 208.94,281.87 209.41,282.40 209.89,282.95 210.36,283.51 210.84,284.09 211.31,284.68 211.79,285.28 212.26,285.89 212.74,286.51 213.21,287.13 213.68,287.75 214.16,288.38 214.63,289.00 215.11,289.62 215.58,290.23 216.06,290.84 216.53,291.44 217.01,292.02 217.48,292.59 217.96,293.15 218.43,293.69 218.91,294.22 219.38,294.72 219.85,295.20 220.33,295.66 220.80,296.10 221.28,296.51 221.75,296.89 222.23,297.24 222.70,297.57 223.18,297.86 223.65,298.12 224.13,298.35 224.60,298.54 225.08,298.70 225.55,298.82 226.02,298.91 226.50,298.96 226.97,298.97 227.45,298.94 227.92,298.87 228.40,298.77 228.87,298.62 229.35,298.44 229.82,298.21 230.30,297.95 230.77,297.64 231.25,297.30 231.72,296.92 232.19,296.50 232.67,296.04 233.14,295.55 233.62,295.02 234.09,294.46 234.57,293.86 235.04,293.23 235.52,292.56 235.99,291.87 236.47,291.14 236.94,290.39 237.42,289.61 237.89,288.81 238.37,287.98 238.84,287.14 239.31,286.27 239.79,285.39 240.26,284.49 240.74,283.58 241.21,282.65 241.69,281.72 242.16,280.79 242.64,279.85 243.11,278.90 243.59,277.96 244.06,277.02 244.54,276.09 245.01,275.16 245.48,274.25 245.96,273.34 246.43,272.45 246.91,271.58 247.38,270.73 247.86,269.90 248.33,269.10 248.81,268.32 249.28,267.57 249.76,266.85 250.23,266.17 250.71,265.52 251.18,264.90 251.65,264.33 252.13,263.79 252.60,263.30 253.08,262.84 253.55,262.43 254.03,262.07 254.50,261.75 254.98,261.49 255.45,261.26 255.93,261.09 256.40,260.97 256.88,260.89 257.35,260.87 257.82,260.89 258.30,260.97 258.77,261.09 259.25,261.26 259.72,261.49 260.20,261.75 260.67,262.07 261.15,262.43 261.62,262.84 262.10,263.30 262.57,263.79 263.05,264.33 263.52,264.90 263.99,265.52 264.47,266.17 264.94,266.85 265.42,267.57 265.89,268.32 266.37,269.10 266.84,269.90 267.32,270.73 267.79,271.58 268.27,272.45 268.74,273.34 269.22,274.25 269.69,275.16 270.16,276.09 270.64,277.02 271.11,277.96 271.59,278.90 272.06,279.85 272.54,280.79 273.01,281.72 273.49,282.65 273.96,283.58 274.44,284.49 274.91,285.39 275.39,286.27 275.86,287.14 276.34,287.98 276.81,288.81 277.28,289.61 277.76,290.39 278.23,291.14 278.71,291.87 279.18,292.56 279.66,293.23 280.13,293.86 280.61,294.46 281.08,295.02 281.56,295.55 282.03,296.04 282.51,296.50 282.98,296.92 283.45,297.30 283.93,297.64 284.40,297.95 284.88,298.21 285.35,298.44 285.83,298.62 286.30,298.77 286.78,298.87 287.25,298.94 287.73,298.97 288.20,298.96 288.68,298.91 289.15,298.82 289.62,298.70 290.10,298.54 290.57,298.35 291.05,298.12 291.52,297.86 292.00,297.57 292.47,297.24 292.95,296.89 293.42,296.51 293.90,296.10 294.37,295.66 294.85,295.20 295.32,294.72 295.79,294.22 296.27,293.69 296.74,293.15 297.22,292.59 297.69,292.02 298.17,291.44 298.64,290.84 299.12,290.23 299.59,289.62 300.07,289.00 300.54,288.38 301.02,287.75 301.49,287.13 301.96,286.51 302.44,285.89 302.91,285.28 303.39,284.68 303.86,284.09 304.34,283.51 304.81,282.95 305.29,282.40 305.76,281.87 306.24,281.36 306.71,280.87 307.19,280.41 307.66,279.98 308.13,279.57 308.61,279.19 309.08,278.84 309.56,278.53 310.03,278.25 310.51,278.01 310.98,277.81 311.46,277.65 311.93,277.52 312.41,277.45 312.88,277.41 313.36,277.42 313.83,277.48 314.31,277.59 314.78,277.75 315.25,277.95 315.73,278.21 316.20,278.52 316.68,278.88 317.15,279.30 317.63,279.77 318.10,280.29 318.58,280.87 319.05,281.51 319.53,282.20 320.00,282.94 320.48,283.74 320.95,284.60 321.42,285.51 321.90,286.48 322.37,287.50 322.85,288.58 323.32,289.71 323.80,290.89 324.27,292.12 324.75,293.41 325.22,294.75 325.70,296.13 326.17,297.38 326.65,298.69 327.12,300.06 327.59,301.49 328.07,302.97 328.54,304.51 329.02,306.10 329.49,307.74 329.97,309.44 330.44,311.18 330.92,312.96 331.39,314.79 331.87,316.66 332.34,318.57 332.82,320.51 333.29,322.49 333.76,324.50 334.24,326.53 334.71,328.59 335.19,330.67 335.66,332.77 336.14,334.89 336.61,337.02 337.09,339.16 337.56,341.31 338.04,343.47 338.51,345.62 338.99,347.78 339.46,349.94 339.93,352.09 340.41,354.24 340.88,356.37 341.36,358.53 341.83,360.67 342.31,362.79 342.78,364.89 343.26,366.97 343.73,369.03 344.21,371.06 344.68,373.08 345.16,375.06 345.63,377.02 346.10,378.95 346.58,380.86 347.05,382.73 347.53,384.58 348.00,386.39 348.48,388.18 348.95,389.93 349.43,391.65 349.90,393.34 350.38,395.00 350.85,396.62 351.33,398.21 351.80,399.77 352.28,401.29 352.75,402.78 353.22,404.23 353.70,405.65 354.17,407.04 354.65,408.40 355.12,409.72 355.60,411.00 356.07,412.26 356.55,413.48 357.02,414.67 357.50,415.82 357.97,416.95 358.45,418.04 358.92,419.10 359.39,420.13 359.87,421.14 360.34,422.11 360.82,423.05 361.29,423.96 361.77,424.84 362.24,425.70 362.72,426.53 363.19,427.33 363.67,428.10 364.14,428.85 364.62,429.58 365.09,430.28 365.56,430.95 366.04,431.60 366.51,432.23 366.99,432.84 367.46,433.42 367.94,433.99 368.41,434.53 368.89,435.06 369.36,435.56 369.84,436.04 370.31,436.51 370.79,436.96 371.26,437.39 371.73,437.81 372.21,438.20 372.68,438.59 373.16,438.95 373.63,439.31 374.11,439.65 374.58,439.97 375.06,440.28 375.53,440.58 376.01,440.87 376.48,441.15 376.96,441.41 377.43,441.66 377.90,441.90 378.38,442.14 378.85,442.36 379.33,442.57 379.80,442.77 380.28,442.97 380.75,443.16 381.23,443.34 381.70,443.51 382.18,443.67 382.65,443.83 383.13,443.98 383.60,444.12 384.07,444.25 384.55,444.39 385.02,444.51 385.50,444.63 385.97,444.74 386.45,444.85 386.92,444.96 387.40,445.06 387.87,445.15 388.35,445.24 388.82,445.33 389.30,445.41 389.77,445.49 390.25,445.57 390.72,445.64 391.19,445.71 391.67,445.78 392.14,445.84 392.62,445.90 393.09,445.96 393.57,446.01 394.04,446.06 394.52,446.11 394.99,446.16 395.47,446.21 395.94,446.25 396.42,446.29 396.89,446.33 397.36,446.37 397.84,446.41 398.31,446.44 398.79,446.48 399.26,446.51 399.74,446.54 400.21,446.57 400.69,446.59 401.16,446.62 401.64,446.65 402.11,446.67 402.59,446.69 403.06,446.71 403.53,446.74 404.01,446.76 404.48,446.77 404.96,446.79 405.43,446.81 405.91,446.83 406.38,446.84 406.86,446.86 407.33,446.87 407.81,446.89 408.28,446.90 408.76,446.91 409.23,446.92 409.70,446.93 410.18,446.95 410.65,446.96 411.13,446.97 411.60,446.97 412.08,446.98 412.55,446.99 413.03,447.00 413.50,447.01 413.98,447.02 414.45,447.02 414.93,447.03 415.40,447.04 415.87,447.04 416.35,447.05 416.82,447.05 417.30,447.06 417.77,447.06 418.25,447.07 418.72,447.07 419.20,447.08 419.67,447.08 420.15,447.08 420.62,447.09 421.10,447.09 421.57,447.09 422.04,447.10 422.52,447.10 422.99,447.10 423.47,447.11 423.94,447.11 424.42,447.11 424.89,447.11 425.37,447.12 425.84,447.12 426.32,447.12 426.79,447.12 427.27,447.12 427.74,447.12 428.22,447.13 428.69,447.13 429.16,447.13 429.64,447.13 430.11,447.13 430.59,447.13 431.06,447.13 431.54,447.13 432.01,447.14 432.49,447.14 432.96,447.14 433.44,447.14 433.91,447.14 434.39,447.14 434.86,447.14 435.33,447.14 435.81,447.14 436.28,447.14 436.76,447.14 437.23,447.14 437.71,447.14 438.18,447.14 438.66,447.14 439.13,447.14 439.61,447.14 440.08,447.15 440.56,447.15 441.03,447.15 441.50,447.15 441.98,447.15 442.45,447.15 442.93,447.15 443.40,447.15 443.88,447.15 444.35,447.15 444.83,447.15 445.30,447.15 445.78,447.15 446.25,447.15 446.73,447.15 447.20,447.15" fill="none" stroke="#9400d3" stroke-width="1.7" stroke-dasharray="10 3.3" stroke-dashoffset="5.8"/>
<polyline points="67.50,447.15 67.97,447.15 68.45,447.15 68.92,447.15 69.40,447.15 69.87,447.15 70.35,447.15 70.82,447.15 71.30,447.15 71.77,447.15 72.25,447.15 72.72,447.15 73.20,447.15 73.67,447.15 74.14,447.15 74.62,447.15 75.09,447.15 75.57,447.15 76.04,447.14 76.52,447.14 76.99,447.14 77.47,447.14 77.94,447.14 78.42,447.14 78.89,447.14 79.37,447.14 79.84,447.14 80.31,447.14 80.79,447.14 81.26,447.14 81.74,447.14 82.21,447.14 82.69,447.14 83.16,447.14 83.64,447.13 84.11,447.13 84.59,447.13 85.06,447.13 85.54,447.13 86.01,447.13 86.49,447.13 86.96,447.13 87.43,447.12 87.91,447.12 88.38,447.12 88.86,447.12 89.33,447.12 89.81,447.12 90.28,447.11 90.76,447.11 91.23,447.11 91.71,447.11 92.18,447.10 92.66,447.10 93.13,447.10 93.60,447.10 94.08,447.09 94.55,447.09 95.03,447.09 95.50,447.08 95.98,447.08 96.45,447.07 96.93,447.07 97.40,447.06 97.88,447.06 98.35,447.05 98.83,447.05 99.30,447.04 99.77,447.04 100.25,447.03 100.72,447.03 101.20,447.02 101.67,447.01 102.15,447.00 102.62,447.00 103.10,446.99 103.57,446.98 104.05,446.97 104.52,446.96 105.00,446.95 105.47,446.94 105.94,446.93 106.42,446.92 106.89,446.90 107.37,446.89 107.84,446.88 108.32,446.86 108.79,446.85 109.27,446.83 109.74,446.82 110.22,446.80 110.69,446.78 111.17,446.76 111.64,446.74 112.11,446.72 112.59,446.70 113.06,446.68 113.54,446.66 114.01,446.63 114.49,446.60 114.96,446.58 115.44,446.55 115.91,446.52 116.39,446.49 116.86,446.46 117.34,446.42 117.81,446.39 118.28,446.35 118.76,446.31 119.23,446.27 119.71,446.23 120.18,446.18 120.66,446.13 121.13,446.08 121.61,446.03 122.08,445.98 122.56,445.92 123.03,445.86 123.51,445.80 123.98,445.74 124.46,445.67 124.93,445.60 125.40,445.52 125.88,445.45 126.35,445.36 126.83,445.28 127.30,445.19 127.78,445.10 128.25,445.00 128.73,444.90 129.20,444.79 129.68,444.68 130.15,444.56 130.63,444.44 131.10,444.31 131.57,444.17 132.05,444.03 132.52,443.89 133.00,443.73 133.47,443.57 133.95,443.40 134.42,443.23 134.90,443.05 135.37,442.85 135.85,442.65 136.32,442.44 136.80,442.23 137.27,442.00 137.74,441.76 138.22,441.51 138.69,441.25 139.17,440.98 139.64,440.70 140.12,440.41 140.59,440.10 141.07,439.78 141.54,439.45 142.02,439.10 142.49,438.74 142.97,438.36 143.44,437.97 143.91,437.56 144.39,437.13 144.86,436.69 145.34,436.23 145.81,435.76 146.29,435.26 146.76,434.74 147.24,434.21 147.71,433.65 148.19,433.08 148.66,432.48 149.14,431.86 149.61,431.22 150.08,430.55 150.56,429.86 151.03,429.15 151.51,428.41 151.98,427.64 152.46,426.85 152.93,426.03 153.41,425.19 153.88,424.32 154.36,423.42 154.83,422.49 155.31,421.53 155.78,420.54 156.25,419.52 156.73,418.47 157.20,417.39 157.68,416.28 158.15,415.13 158.63,413.96 159.10,412.75 159.58,411.51 160.05,410.23 160.53,408.93 161.00,407.59 161.48,406.21 161.95,404.80 162.43,403.36 162.90,401.89 163.37,400.38 163.85,398.84 164.32,397.26 164.80,395.65 165.27,394.01 165.75,392.33 166.22,390.62 166.70,388.88 167.17,387.11 167.65,385.31 168.12,383.47 168.60,381.61 169.07,379.72 169.54,377.80 170.02,375.85 170.49,373.87 170.97,371.87 171.44,369.85 171.92,367.80 172.39,365.72 172.87,363.63 173.34,361.52 173.82,359.39 174.29,357.24 174.77,355.07 175.24,352.89 175.71,350.70 176.19,348.50 176.66,346.29 177.14,344.07 177.61,341.84 178.09,339.62 178.56,337.39 179.04,335.16 179.51,332.93 179.99,330.71 180.46,328.49 180.94,326.28 181.41,324.09 181.88,321.90 182.36,319.74 182.83,317.59 183.31,315.46 183.78,313.35 184.26,311.27 184.73,309.21 185.21,307.18 185.68,305.19 186.16,303.23 186.63,301.30 187.11,299.41 187.58,297.57 188.05,295.76 188.53,294.00 189.00,292.29 189.48,290.63 189.95,289.02 190.43,287.46 190.90,285.96 191.38,284.51 191.85,283.12 192.33,281.79 192.80,280.53 193.28,279.32 193.75,278.19 194.22,277.11 194.70,276.11 195.17,275.17 195.65,274.30 196.12,273.50 196.60,272.78 197.07,272.12 197.55,271.54 198.02,271.02 198.50,270.58 198.97,270.21 199.45,269.92 199.92,269.69 200.40,269.54 200.87,269.45 201.34,269.44 201.82,269.50 202.29,269.62 202.77,269.82 203.24,270.08 203.72,270.40 204.19,270.78 204.67,271.23 205.14,271.74 205.62,272.30 206.09,272.92 206.57,273.60 207.04,274.32 207.51,275.09 207.99,275.91 208.46,276.77 208.94,277.67 209.41,278.61 209.89,279.58 210.36,280.58 210.84,281.61 211.31,282.66 211.79,283.73 212.26,284.83 212.74,285.93 213.21,287.04 213.68,288.17 214.16,289.29 214.63,290.41 215.11,291.53 215.58,292.65 216.06,293.75 216.53,294.83 217.01,295.90 217.48,296.95 217.96,297.97 218.43,298.96 218.91,299.93 219.38,300.86 219.85,301.75 220.33,302.60 220.80,303.41 221.28,304.18 221.75,304.90 222.23,305.57 222.70,306.19 223.18,306.76 223.65,307.28 224.13,307.73 224.60,308.13 225.08,308.48 225.55,308.76 226.02,308.98 226.50,309.14 226.97,309.23 227.45,309.27 227.92,309.24 228.40,309.14 228.87,308.98 229.35,308.75 229.82,308.46 230.30,308.10 230.77,307.68 231.25,307.20 231.72,306.65 232.19,306.03 232.67,305.36 233.14,304.62 233.62,303.82 234.09,302.96 234.57,302.04 235.04,301.07 235.52,300.05 235.99,298.97 236.47,297.84 236.94,296.67 237.42,295.45 237.89,294.19 238.37,292.90 238.84,291.57 239.31,290.20 239.79,288.81 240.26,287.40 240.74,285.96 241.21,284.50 241.69,283.03 242.16,281.56 242.64,280.07 243.11,278.59 243.59,277.10 244.06,275.62 244.54,274.16 245.01,272.70 245.48,271.26 245.96,269.85 246.43,268.46 246.91,267.10 247.38,265.77 247.86,264.47 248.33,263.22 248.81,262.01 249.28,260.85 249.76,259.73 250.23,258.67 250.71,257.66 251.18,256.71 251.65,255.81 252.13,254.98 252.60,254.22 253.08,253.52 253.55,252.89 254.03,252.33 254.50,251.84 254.98,251.43 255.45,251.09 255.93,250.82 256.40,250.63 256.88,250.52 257.35,250.48 257.82,250.52 258.30,250.63 258.77,250.82 259.25,251.09 259.72,251.43 260.20,251.84 260.67,252.33 261.15,252.89 261.62,253.52 262.10,254.22 262.57,254.98 263.05,255.81 263.52,256.71 263.99,257.66 264.47,258.67 264.94,259.73 265.42,260.85 265.89,262.01 266.37,263.22 266.84,264.47 267.32,265.77 267.79,267.10 268.27,268.46 268.74,269.85 269.22,271.26 269.69,272.70 270.16,274.16 270.64,275.62 271.11,277.10 271.59,278.59 272.06,280.07 272.54,281.56 273.01,283.03 273.49,284.50 273.96,285.96 274.44,287.40 274.91,288.81 275.39,290.20 275.86,291.57 276.34,292.90 276.81,294.19 277.28,295.45 277.76,296.67 278.23,297.84 278.71,298.97 279.18,300.05 279.66,301.07 280.13,302.04 280.61,302.96 281.08,303.82 281.56,304.62 282.03,305.36 282.51,306.03 282.98,306.65 283.45,307.20 283.93,307.68 284.40,308.10 284.88,308.46 285.35,308.75 285.83,308.98 286.30,309.14 286.78,309.24 287.25,309.27 287.73,309.23 288.20,309.14 288.68,308.98 289.15,308.76 289.62,308.48 290.10,308.13 290.57,307.73 291.05,307.28 291.52,306.76 292.00,306.19 292.47,305.57 292.95,304.90 293.42,304.18 293.90,303.41 294.37,302.60 294.85,301.75 295.32,300.86 295.79,299.93 296.27,298.96 296.74,297.97 297.22,296.95 297.69,295.90 298.17,294.83 298.64,293.75 299.12,292.65 299.59,291.53 300.07,290.41 300.54,289.29 301.02,288.17 301.49,287.04 301.96,285.93 302.44,284.83 302.91,283.73 303.39,282.66 303.86,281.61 304.34,280.58 304.81,279.58 305.29,278.61 305.76,277.67 306.24,276.77 306.71,275.91 307.19,275.09 307.66,274.32 308.13,273.60 308.61,272.92 309.08,272.30 309.56,271.74 310.03,271.23 310.51,270.78 310.98,270.40 311.46,270.08 311.93,269.82 312.41,269.62 312.88,269.50 313.36,269.44 313.83,269.45 314.31,269.54 314.78,269.69 315.25,269.92 315.73,270.21 316.20,270.58 316.68,271.02 317.15,271.54 317.63,272.12 318.10,272.78 318.58,273.50 319.05,274.30 319.53,275.17 320.00,276.11 320.48,277.11 320.95,278.19 321.42,279.32 321.90,280.53 322.37,281.79 322.85,283.12 323.32,284.51 323.80,285.96 324.27,287.46 324.75,289.02 325.22,290.63 325.70,292.29 326.17,294.00 326.65,295.76 327.12,297.57 327.59,299.41 328.07,301.30 328.54,303.23 329.02,305.19 329.49,307.18 329.97,309.21 330.44,311.27 330.92,313.35 331.39,315.46 331.87,317.59 332.34,319.74 332.82,321.90 333.29,324.09 333.76,326.28 334.24,328.49 334.71,330.71 335.19,332.93 335.66,335.16 336.14,337.39 336.61,339.62 337.09,341.84 337.56,344.07 338.04,346.29 338.51,348.50 338.99,350.70 339.46,352.89 339.93,355.07 340.41,357.24 340.88,359.39 341.36,361.52 341.83,363.63 342.31,365.72 342.78,367.80 343.26,369.85 343.73,371.87 344.21,373.87 344.68,375.85 345.16,377.80 345.63,379.72 346.10,381.61 346.58,383.47 347.05,385.31 347.53,387.11 348.00,388.88 348.48,390.62 348.95,392.33 349.43,394.01 349.90,395.65 350.38,397.26 350.85,398.84 351.33,400.38 351.80,401.89 352.28,403.36 352.75,404.80 353.22,406.21 353.70,407.59 354.17,408.93 354.65,410.23 355.12,411.51 355.60,412.75 356.07,413.96 356.55,415.13 357.02,416.28 357.50,417.39 357.97,418.47 358.45,419.52 358.92,420.54 359.39,421.53 359.87,422.49 360.34,423.42 360.82,424.32 361.29,425.19 361.77,426.03 362.24,426.85 362.72,427.64 363.19,428.41 363.67,429.15 364.14,429.86 364.62,430.55 365.09,431.22 365.56,431.86 366.04,432.48 366.51,433.08 366.99,433.65 367.46,434.21 367.94,434.74 368.41,435.26 368.89,435.76 369.36,436.23 369.84,436.69 370.31,437.13 370.79,437.56 371.26,437.97 371.73,438.36 372.21,438.74 372.68,439.10 373.16,439.45 373.63,439.78 374.11,440.10 374.58,440.41 375.06,440.70 375.53,440.98 376.01,441.25 376.48,441.51 376.96,441.76 377.43,442.00 377.90,442.23 378.38,442.44 378.85,442.65 379.33,442.85 379.80,443.05 380.28,443.23 380.75,443.40 381.23,443.57 381.70,443.73 382.18,443.89 382.65,444.03 383.13,444.17 383.60,444.31 384.07,444.44 384.55,444.56 385.02,444.68 385.50,444.79 385.97,444.90 386.45,445.00 386.92,445.10 387.40,445.19 387.87,445.28 388.35,445.36 388.82,445.45 389.30,445.52 389.77,445.60 390.25,445.67 390.72,445.74 391.19,445.80 391.67,445.86 392.14,445.92 392.62,445.98 393.09,446.03 393.57,446.08 394.04,446.13 394.52,446.18 394.99,446.23 395.47,446.27 395.94,446.31 396.42,446.35 396.89,446.39 397.36,446.42 397.84,446.46 398.31,446.49 398.79,446.52 399.26,446.55 399.74,446.58 400.21,446.60 400.69,446.63 401.16,446.66 401.64,446.68 402.11,446.70 402.59,446.72 403.06,446.74 403.53,446.76 404.01,446.78 404.48,446.80 404.96,446.82 405.43,446.83 405.91,446.85 406.38,446.86 406.86,446.88 407.33,446.89 407.81,446.90 408.28,446.92 408.76,446.93 409.23,446.94 409.70,446.95 410.18,446.96 410.65,446.97 411.13,446.98 411.60,446.99 412.08,447.00 412.55,447.00 413.03,447.01 413.50,447.02 413.98,447.03 414.45,447.03 414.93,447.04 415.40,447.04 415.87,447.05 416.35,447.05 416.82,447.06 417.30,447.06 417.77,447.07 418.25,447.07 418.72,447.08 419.20,447.08 419.67,447.09 420.15,447.09 420.62,447.09 421.10,447.10 421.57,447.10 422.04,447.10 422.52,447.10 422.99,447.11 423.47,447.11 423.94,447.11 424.42,447.11 424.89,447.12 425.37,447.12 425.84,447.12 426.32,447.12 426.79,447.12 427.27,447.12 427.74,447.13 428.22,447.13 428.69,447.13 429.16,447.13 429.64,447.13 430.11,447.13 430.59,447.13 431.06,447.13 431.54,447.14 432.01,447.14 432.49,447.14 432.96,447.14 433.44,447.14 433.91,447.14 434.39,447.14 434.86,447.14 435.33,447.14 435.81,447.14 436.28,447.14 436.76,447.14 437.23,447.14 437.71,447.14 438.18,447.14 438.66,447.14 439.13,447.15 439.61,447.15 440.08,447.15 440.56,447.15 441.03,447.15 441.50,447.15 441.98,447.15 442.45,447.15 442.93,447.15 443.40,447.15 443.88,447.15 444.35,447.15 444.83,447.15 445.30,447.15 445.78,447.15 446.25,447.15 446.73,447.15 447.20,447.15" fill="none" stroke="#ffa500" stroke-width="1.8" stroke-dasharray="8 2.1 1.3 1.9" stroke-dashoffset="0.5"/>
<polyline points="67.50,447.15 67.97,447.15 68.45,447.15 68.92,447.15 69.40,447.15 69.87,447.15 70.35,447.15 70.82,447.15 71.30,447.15 71.77,447.15 72.25,447.15 72.72,447.15 73.20,447.15 73.67,447.15 74.14,447.15 74.62,447.15 75.09,447.15 75.57,447.15 76.04,447.14 76.52,447.14 76.99,447.14 77.47,447.14 77.94,447.14 78.42,447.14 78.89,447.14 79.37,447.14 79.84,447.14 80.31,447.14 80.79,447.14 81.26,447.14 81.74,447.14 82.21,447.14 82.69,447.14 83.16,447.14 83.64,447.13 84.11,447.13 84.59,447.13 85.06,447.13 85.54,447.13 86.01,447.13 86.49,447.13 86.96,447.13 87.43,447.12 87.91,447.12 88.38,447.12 88.86,447.12 89.33,447.12 89.81,447.12 90.28,447.11 90.76,447.11 91.23,447.11 91.71,447.11 92.18,447.10 92.66,447.10 93.13,447.10 93.60,447.10 94.08,447.09 94.55,447.09 95.03,447.09 95.50,447.08 95.98,447.08 96.45,447.07 96.93,447.07 97.40,447.06 97.88,447.06 98.35,447.05 98.83,447.05 99.30,447.04 99.77,447.04 100.25,447.03 100.72,447.03 101.20,447.02 101.67,447.01 102.15,447.00 102.62,447.00 103.10,446.99 103.57,446.98 104.05,446.97 104.52,446.96 105.00,446.95 105.47,446.94 105.94,446.93 106.42,446.92 106.89,446.90 107.37,446.89 107.84,446.88 108.32,446.86 108.79,446.85 109.27,446.83 109.74,446.82 110.22,446.80 110.69,446.78 111.17,446.76 111.64,446.74 112.11,446.72 112.59,446.70 113.06,446.68 113.54,446.66 114.01,446.63 114.49,446.60 114.96,446.58 115.44,446.55 115.91,446.52 116.39,446.49 116.86,446.46 117.34,446.42 117.81,446.39 118.28,446.35 118.76,446.31 119.23,446.27 119.71,446.23 120.18,446.18 120.66,446.13 121.13,446.08 121.61,446.03 122.08,445.98 122.56,445.92 123.03,445.86 123.51,445.80 123.98,445.74 124.46,445.67 124.93,445.60 125.40,445.52 125.88,445.45 126.35,445.36 126.83,445.28 127.30,445.19 127.78,445.10 128.25,445.00 128.73,444.90 129.20,444.79 129.68,444.68 130.15,444.56 130.63,444.44 131.10,444.31 131.57,444.17 132.05,444.03 132.52,443.89 133.00,443.73 133.47,443.57 133.95,443.40 134.42,443.23 134.90,443.05 135.37,442.85 135.85,442.65 136.32,442.44 136.80,442.23 137.27,442.00 137.74,441.76 138.22,441.51 138.69,441.25 139.17,440.98 139.64,440.70 140.12,440.41 140.59,440.10 141.07,439.78 141.54,439.45 142.02,439.10 142.49,438.74 142.97,438.36 143.44,437.97 143.91,437.56 144.39,437.13 144.86,436.69 145.34,436.23 145.81,435.76 146.29,435.26 146.76,434.74 147.24,434.21 147.71,433.65 148.19,433.08 148.66,432.48 149.14,431.86 149.61,431.22 150.08,430.55 150.56,429.86 151.03,429.15 151.51,428.41 151.98,427.64 152.46,426.85 152.93,426.03 153.41,425.19 153.88,424.32 154.36,423.42 154.83,422.49 155.31,421.53 155.78,420.54 156.25,419.52 156.73,418.47 157.20,417.39 157.68,416.28 158.15,415.13 158.63,413.96 159.10,412.75 159.58,411.51 160.05,410.23 160.53,408.93 161.00,407.59 161.48,406.21 161.95,404.80 162.43,403.36 162.90,401.89 163.37,400.38 163.85,398.84 164.32,397.26 164.80,395.65 165.27,394.01 165.75,392.33 166.22,390.62 166.70,388.88 167.17,387.11 167.65,385.31 168.12,383.47 168.60,381.61 169.07,379.72 169.54,377.80 170.02,375.85 170.49,373.87 170.97,371.87 171.44,369.85 171.92,367.80 172.39,365.72 172.87,363.63 173.34,361.52 173.82,359.39 174.29,357.24 174.77,355.07 175.24,352.89 175.71,350.70 176.19,348.50 176.66,346.29 177.14,344.07 177.61,341.84 178.09,339.62 178.56,337.39 179.04,335.16 179.51,332.93 179.99,330.71 180.46,328.49 180.94,326.28 181.41,324.09 181.88,321.90 182.36,319.74 182.83,317.59 183.31,315.46 183.78,313.35 184.26,311.27 184.73,309.21 185.21,307.18 185.68,305.19 186.16,303.23 186.63,301.30 187.11,299.41 187.58,297.57 188.05,295.76 188.53,294.00 189.00,292.29 189.48,290.63 189.95,289.02 190.43,287.46 190.90,285.96 191.38,284.51 191.85,283.12 192.33,281.79 192.80,280.53 193.28,279.32 193.75,278.19 194.22,277.11 194.70,276.11 195.17,275.17 195.65,274.30 196.12,273.50 196.60,272.78 197.07,272.12 197.55,271.54 198.02,271.02 198.50,270.58 198.97,270.21 199.45,269.92 199.92,269.69 200.40,269.54 200.87,269.45 201.34,269.44 201.82,269.50 202.29,269.62 202.77,269.82 203.24,270.08 203.72,270.40 204.19,270.78 204.67,271.23 205.14,271.74 205.62,272.30 206.09,272.92 206.57,273.60 207.04,274.32 207.51,275.09 207.99,275.91 208.46,276.77 208.94,277.67 209.41,278.61 209.89,279.58 210.36,280.58 210.84,281.61 211.31,282.66 211.79,283.73 212.26,284.83 212.74,285.93 213.21,287.04 213.68,288.17 214.16,289.29 214.63,290.41 215.11,291.53 215.58,292.65 216.06,293.75 216.53,294.83 217.01,295.90 217.48,296.95 217.96,297.97 218.43,298.96 218.91,299.93 219.38,300.86 219.85,301.75 220.33,302.60 220.80,303.41 221.28,304.18 221.75,304.90 222.23,305.57 222.70,306.19 223.18,306.76 223.65,307.28 224.13,307.73 224.60,308.13 225.08,308.48 225.55,308.76 226.02,308.98 226.50,309.14 226.97,309.23 227.45,309.27 227.92,309.24 228.40,309.14 228.87,308.98 229.35,308.75 229.82,308.46 230.30,308.10 230.77,307.68 231.25,307.20 231.72,306.65 232.19,306.03 232.67,305.36 233.14,304.62 233.62,303.82 234.09,302.96 234.57,302.04 235.04,301.07 235.52,300.05 235.99,298.97 236.47,297.84 236.94,296.67 237.42,295.45 237.89,294.19 238.37,292.90 238.84,291.57 239.31,290.20 239.79,288.81 240.26,287.40 240.74,285.96 241.21,284.50 241.69,283.03 242.16,281.56 242.64,280.07 243.11,278.59 243.59,277.10 244.06,275.62 244.54,274.16 245.01,272.70 245.48,271.26 245.96,269.85 246.43,268.46 246.91,267.10 247.38,265.77 247.86,264.47 248.33,263.22 248.81,262.01 249.28,260.85 249.76,259.73 250.23,258.67 250.71,257.66 251.18,256.71 251.65,255.81 252.13,254.98 252.60,254.22 253.08,253.52 253.55,252.89 254.03,252.33 254.50,251.84 254.98,251.43 255.45,251.09 255.93,250.82 256.40,250.63 256.88,250.52 257.35,250.48 257.82,250.52 258.30,250.63 258.77,250.82 259.25,251.09 259.72,251.43 260.20,251.84 260.67,252.33 261.15,252.89 261.62,253.52 262.10,254.22 262.57,254.98 263.05,255.81 263.52,256.71 263.99,257.66 264.47,258.67 264.94,259.73 265.42,260.85 265.89,262.01 266.37,263.22 266.84,264.47 267.32,265.77 267.79,267.10 268.27,268.46 268.74,269.85 269.22,271.26 269.69,272.70 270.16,274.16 270.64,275.62 271.11,277.10 271.59,278.59 272.06,280.07 272.54,281.56 273.01,283.03 273.49,284.50 273.96,285.96 274.44,287.40 274.91,288.81 275.39,290.20 275.86,291.57 276.34,292.90 276.81,294.19 277.28,295.45 277.76,296.67 278.23,297.84 278.71,298.97 279.18,300.05 279.66,301.07 280.13,302.04 280.61,302.96 281.08,303.82 281.56,304.62 282.03,305.36 282.51,306.03 282.98,306.65 283.45,307.20 283.93,307.68 284.40,308.10 284.88,308.46 285.35,308.75 285.83,308.98 286.30,309.14 286.78,309.24 287.25,309.27 287.73,309.23 288.20,309.14 288.68,308.98 289.15,308.76 289.62,308.48 290.10,308.13 290.57,307.73 291.05,307.28 291.52,306.76 292.00,306.19 292.47,305.57 292.95,304.90 293.42,304.18 293.90,303.41 294.37,302.60 294.85,301.75 295.32,300.86 295.79,299.93 296.27,298.96 296.74,297.97 297.22,296.95 297.69,295.90 298.17,294.83 298.64,293.75 299.12,292.65 299.59,291.53 300.07,290.41 300.54,289.29 301.02,288.17 301.49,287.04 301.96,285.93 302.44,284.83 302.91,283.73 303.39,282.66 303.86,281.61 304.34,280.58 304.81,279.58 305.29,278.61 305.76,277.67 306.24,276.77 306.71,275.91 307.19,275.09 307.66,274.32 308.13,273.60 308.61,272.92 309.08,272.30 309.56,271.74 310.03,271.23 310.51,270.78 310.98,270.40 311.46,270.08 311.93,269.82 312.41,269.62 312.88,269.50 313.36,269.44 313.83,269.45 314.31,269.54 314.78,269.69 315.25,269.92 315.73,270.21 316.20,270.58 316.68,271.02 317.15,271.54 317.63,272.12 318.10,272.78 318.58,273.50 319.05,274.30 319.53,275.17 320.00,276.11 320.48,277.11 320.95,278.19 321.42,279.32 321.90,280.53 322.37,281.79 322.85,283.12 323.32,284.51 323.80,285.96 324.27,287.46 324.75,289.02 325.22,290.63 325.70,292.29 326.17,294.00 326.65,295.76 327.12,297.57 327.59,299.41 328.07,301.30 328.54,303.23 329.02,305.19 329.49,307.18 329.97,309.21 330.44,311.27 330.92,313.35 331.39,315.46 331.87,317.59 332.34,319.74 332.82,321.90 333.29,324.09 333.76,326.28 334.24,328.49 334.71,330.71 335.19,332.93 335.66,335.16 336.14,337.39 336.61,339.62 337.09,341.84 337.56,344.07 338.04,346.29 338.51,348.50 338.99,350.70 339.46,352.89 339.93,355.07 340.41,357.24 340.88,359.39 341.36,361.52 341.83,363.63 342.31,365.72 342.78,367.80 343.26,369.85 343.73,371.87 344.21,373.87 344.68,375.85 345.16,377.80 345.63,379.72 346.10,381.61 346.58,383.47 347.05,385.31 347.53,387.11 348.00,388.88 348.48,390.62 348.95,392.33 349.43,394.01 349.90,395.65 350.38,397.26 350.85,398.84 351.33,400.38 351.80,401.89 352.28,403.36 352.75,404.80 353.22,406.21 353.70,407.59 354.17,408.93 354.65,410.23 355.12,411.51 355.60,412.75 356.07,413.96 356.55,415.13 357.02,416.28 357.50,417.39 357.97,418.47 358.45,419.52 358.92,420.54 359.39,421.53 359.87,422.49 360.34,423.42 360.82,424.32 361.29,425.19 361.77,426.03 362.24,426.85 362.72,427.64 363.19,428.41 363.67,429.15 364.14,429.86 364.62,430.55 365.09,431.22 365.56,431.86 366.04,432.48 366.51,433.08 366.99,433.65 367.46,434.21 367.94,434.74 368.41,435.26 368.89,435.76 369.36,436.23 369.84,436.69 370.31,437.13 370.79,437.56 371.26,437.97 371.73,438.36 372.21,438.74 372.68,439.10 373.16,439.45 373.63,439.78 374.11,440.10 374.58,440.41 375.06,440.70 375.53,440.98 376.01,441.25 376.48,441.51 376.96,441.76 377.43,442.00 377.90,442.23 378.38,442.44 378.85,442.65 379.33,442.85 379.80,443.05 380.28,443.23 380.75,443.40 381.23,443.57 381.70,443.73 382.18,443.89 382.65,444.03 383.13,444.17 383.60,444.31 384.07,444.44 384.55,444.56 385.02,444.68 385.50,444.79 385.97,444.90 386.45,445.00 386.92,445.10 387.40,445.19 387.87,445.28 388.35,445.36 388.82,445.45 389.30,445.52 389.77,445.60 390.25,445.67 390.72,445.74 391.19,445.80 391.67,445.86 392.14,445.92 392.62,445.98 393.09,446.03 393.57,446.08 394.04,446.13 394.52,446.18 394.99,446.23 395.47,446.27 395.94,446.31 396.42,446.35 396.89,446.39 397.36,446.42 397.84,446.46 398.31,446.49 398.79,446.52 399.26,446.55 399.74,446.58 400.21,446.60 400.69,446.63 401.16,446.66 401.64,446.68 402.11,446.70 402.59,446.72 403.06,446.74 403.53,446.76 404.01,446.78 404.48,446.80 404.96,446.82 405.43,446.83 405.91,446.85 406.38,446.86 406.86,446.88 407.33,446.89 407.81,446.90 408.28,446.92 408.76,446.93 409.23,446.94 409.70,446.95 410.18,446.96 410.65,446.97 411.13,446.98 411.60,446.99 412.08,447.00 412.55,447.00 413.03,447.01 413.50,447.02 413.98,447.03 414.45,447.03 414.93,447.04 415.40,447.04 415.87,447.05 416.35,447.05 416.82,447.06 417.30,447.06 417.77,447.07 418.25,447.07 418.72,447.08 419.20,447.08 419.67,447.09 420.15,447.09 420.62,447.09 421.10,447.10 421.57,447.10 422.04,447.10 422.52,447.10 422.99,447.11 423.47,447.11 423.94,447.11 424.42,447.11 424.89,447.12 425.37,447.12 425.84,447.12 426.32,447.12 426.79,447.12 427.27,447.12 427.74,447.13 428.22,447.13 428.69,447.13 429.16,447.13 429.64,447.13 430.11,447.13 430.59,447.13 431.06,447.13 431.54,447.14 432.01,447.14 432.49,447.14 432.96,447.14 433.44,447.14 433.91,447.14 434.39,447.14 434.86,447.14 435.33,447.14 435.81,447.14 436.28,447.14 436.76,447.14 437.23,447.14 437.71,447.14 438.18,447.14 438.66,447.14 439.13,447.15 439.61,447.15 440.08,447.15 440.56,447.15 441.03,447.15 441.50,447.15 441.98,447.15 442.45,447.15 442.93,447.15 443.40,447.15 443.88,447.15 444.35,447.15 444.83,447.15 445.30,447.15 445.78,447.15 446.25,447.15 446.73,447.15 447.20,447.15" fill="none" stroke="#008000" stroke-width="1.8" stroke-dasharray="5 1.65" stroke-dashoffset="4.1"/>
<polyline points="171.92,131.12 172.87,138.10 173.82,145.01 174.77,151.83 175.71,158.58 176.66,165.26 177.61,171.85 178.56,178.36 179.51,184.80 180.46,191.16 181.41,197.44 182.36,203.65 183.31,209.77 184.26,215.82 185.21,221.79 186.16,227.68 187.11,233.50 188.05,239.23 189.00,244.89 189.95,250.47 190.90,255.97 191.85,261.39 192.80,266.74 193.75,272.00 194.70,277.19 195.65,282.30 196.60,287.34 197.55,292.29 198.50,297.17 199.45,301.97 200.40,306.69 201.34,311.33 202.29,315.90 203.24,320.39 204.19,324.79 205.14,329.12 206.09,333.38 207.04,337.55 207.99,341.65 208.94,345.67 209.89,349.61 210.84,353.47 211.79,357.26 212.74,360.96 213.68,364.59 214.63,368.14 215.58,371.61 216.53,375.01 217.48,378.32 218.43,381.56 219.38,384.72 220.33,387.81 221.28,390.81 222.23,393.74 223.18,396.58 224.13,399.35 225.08,402.05 226.02,404.66 226.97,407.20 227.92,409.66 228.87,412.04 229.82,414.34 230.77,416.56 231.72,418.71 232.67,420.77 233.62,422.76 234.57,424.68 235.52,426.51 236.47,428.27 237.42,429.94 238.37,431.54 239.31,433.07 240.26,434.51 241.21,435.87 242.16,437.16 243.11,438.37 244.06,439.50 245.01,440.56 245.96,441.53 246.91,442.43 247.86,443.25 248.81,443.99 249.76,444.65 250.71,445.24 251.65,445.75 252.60,446.17 253.55,446.53 254.50,446.80 255.45,446.99 256.40,447.11 257.35,447.15 258.30,447.11 259.25,446.99 260.20,446.80 261.15,446.53 262.10,446.17 263.05,445.75 263.99,445.24 264.94,444.65 265.89,443.99 266.84,443.25 267.79,442.43 268.74,441.53 269.69,440.56 270.64,439.50 271.59,438.37 272.54,437.16 273.49,435.87 274.44,434.51 275.39,433.07 276.34,431.54 277.28,429.94 278.23,428.27 279.18,426.51 280.13,424.68 281.08,422.76 282.03,420.77 282.98,418.71 283.93,416.56 284.88,414.34 285.83,412.04 286.78,409.66 287.73,407.20 288.68,404.66 289.62,402.05 290.57,399.35 291.52,396.58 292.47,393.74 293.42,390.81 294.37,387.81 295.32,384.72 296.27,381.56 297.22,378.32 298.17,375.01 299.12,371.61 300.07,368.14 301.02,364.59 301.96,360.96 302.91,357.26 303.86,353.47 304.81,349.61 305.76,345.67 306.71,341.65 307.66,337.55 308.61,333.38 309.56,329.12 310.51,324.79 311.46,320.39 312.41,315.90 313.36,311.33 314.31,306.69 315.25,301.97 316.20,297.17 317.15,292.29 318.10,287.34 319.05,282.30 320.00,277.19 320.95,272.00 321.90,266.74 322.85,261.39 323.80,255.97 324.75,250.47 325.70,244.89 326.65,239.23 327.59,233.50 328.54,227.68 329.49,221.79 330.44,215.82 331.39,209.77 332.34,203.65 333.29,197.44 334.24,191.16 335.19,184.80 336.14,178.36 337.09,171.85 338.04,165.26 338.99,158.58 339.93,151.83 340.88,145.01 341.83,138.10 342.78,131.12" fill="none" stroke="#000" stroke-width="1.5"/>
</g>
<line x1="76.7" y1="261.5" x2="108.9" y2="261.5" stroke="#000" stroke-width="1.5"/>
<line x1="76.7" y1="283.3" x2="108.9" y2="283.3" stroke="#ff0000" stroke-width="1.5" stroke-dasharray="13.5 2.2"/>
<line x1="76.7" y1="304.5" x2="108.9" y2="304.5" stroke="#9400d3" stroke-width="1.5" stroke-dasharray="10 3.3"/>
<line x1="334.3" y1="261.5" x2="366.2" y2="261.5" stroke="#ffa500" stroke-width="1.5" stroke-dasharray="8 2.1 1.3 2.1"/>
<line x1="334.3" y1="283.3" x2="366.2" y2="283.3" stroke="#008000" stroke-width="1.5" stroke-dasharray="5 1.6"/>
<line x1="334.3" y1="304.5" x2="366.2" y2="304.5" stroke="#000" stroke-width="1.5"/>
<text x="120.8" y="267.2" font-size="15.6" text-anchor="start" textLength="34.9" lengthAdjust="spacingAndGlyphs" >Exact</text>
<text x="120.8" y="289.0" font-size="15.6" text-anchor="start" textLength="19.4" lengthAdjust="spacingAndGlyphs" >HF</text>
<text x="120.8" y="310.4" font-size="15.6" text-anchor="start" textLength="29.4" lengthAdjust="spacingAndGlyphs" >LDA</text>
<text x="378.0" y="267.3" font-size="15.6" text-anchor="start" textLength="10.0" lengthAdjust="spacingAndGlyphs" ><tspan font-style="italic">α</tspan></text>
<text x="391.6" y="268.90000000000003" font-size="15.6" text-anchor="start" textLength="12.6" lengthAdjust="spacingAndGlyphs" >=</text>
<text x="407.9" y="267.3" font-size="15.6" text-anchor="start" textLength="32.4" lengthAdjust="spacingAndGlyphs" >0.905</text>
<text x="378.0" y="289.1" font-size="15.6" text-anchor="start" textLength="10.0" lengthAdjust="spacingAndGlyphs" ><tspan font-style="italic">α</tspan></text>
<text x="391.6" y="290.70000000000005" font-size="15.6" text-anchor="start" textLength="12.6" lengthAdjust="spacingAndGlyphs" >=</text>
<text x="407.9" y="289.1" font-size="15.6" text-anchor="start" textLength="32.4" lengthAdjust="spacingAndGlyphs" >0.915</text>
<text x="378.2" y="310.3" font-size="15.6" text-anchor="start" textLength="55.8" lengthAdjust="spacingAndGlyphs" >Potential</text>
<path d="M80.16 132.7v-4.1M80.16 0.4v4.1M92.81 132.7v-4.1M92.81 0.4v4.1M105.47 132.7v-4.1M105.47 0.4v4.1M118.13 132.7v-4.1M118.13 0.4v4.1M143.44 132.7v-4.1M143.44 0.4v4.1M156.10 132.7v-4.1M156.10 0.4v4.1M168.75 132.7v-4.1M168.75 0.4v4.1M181.41 132.7v-4.1M181.41 0.4v4.1M206.72 132.7v-4.1M206.72 0.4v4.1M219.38 132.7v-4.1M219.38 0.4v4.1M232.04 132.7v-4.1M232.04 0.4v4.1M244.69 132.7v-4.1M244.69 0.4v4.1M270.01 132.7v-4.1M270.01 0.4v4.1M282.66 132.7v-4.1M282.66 0.4v4.1M295.32 132.7v-4.1M295.32 0.4v4.1M307.98 132.7v-4.1M307.98 0.4v4.1M333.29 132.7v-4.1M333.29 0.4v4.1M345.95 132.7v-4.1M345.95 0.4v4.1M358.60 132.7v-4.1M358.60 0.4v4.1M371.26 132.7v-4.1M371.26 0.4v4.1M396.57 132.7v-4.1M396.57 0.4v4.1M409.23 132.7v-4.1M409.23 0.4v4.1M421.89 132.7v-4.1M421.89 0.4v4.1M434.54 132.7v-4.1M434.54 0.4v4.1" stroke="#000" stroke-width="1.2" fill="none"/>
<path d="M67.50 132.7v-7.0M67.50 0.4v7.0M130.78 132.7v-7.0M130.78 0.4v7.0M194.07 132.7v-7.0M194.07 0.4v7.0M257.35 132.7v-7.0M257.35 0.4v7.0M320.63 132.7v-7.0M320.63 0.4v7.0M383.92 132.7v-7.0M383.92 0.4v7.0M447.20 132.7v-7.0M447.20 0.4v7.0" stroke="#000" stroke-width="1.5" fill="none"/>
<path d="M67.5 11.56h4.1M447.2 11.56h-4.1M67.5 33.64h4.1M447.2 33.64h-4.1M67.5 44.68h4.1M447.2 44.68h-4.1M67.5 55.72h4.1M447.2 55.72h-4.1M67.5 77.80h4.1M447.2 77.80h-4.1M67.5 88.84h4.1M447.2 88.84h-4.1M67.5 99.88h4.1M447.2 99.88h-4.1M67.5 121.96h4.1M447.2 121.96h-4.1" stroke="#000" stroke-width="1.2" fill="none"/>
<path d="M67.5 22.60h7.0M447.2 22.60h-7.0M67.5 66.75h7.0M447.2 66.75h-7.0M67.5 110.90h7.0M447.2 110.90h-7.0" stroke="#000" stroke-width="1.5" fill="none"/>
<rect x="67.5" y="0.4" width="379.7" height="132.29999999999998" fill="none" stroke="#000" stroke-width="1.75"/>
<path d="M80.16 191.8v-4.1M80.16 138.3v4.1M92.81 191.8v-4.1M92.81 138.3v4.1M105.47 191.8v-4.1M105.47 138.3v4.1M118.13 191.8v-4.1M118.13 138.3v4.1M143.44 191.8v-4.1M143.44 138.3v4.1M156.10 191.8v-4.1M156.10 138.3v4.1M168.75 191.8v-4.1M168.75 138.3v4.1M181.41 191.8v-4.1M181.41 138.3v4.1M206.72 191.8v-4.1M206.72 138.3v4.1M219.38 191.8v-4.1M219.38 138.3v4.1M232.04 191.8v-4.1M232.04 138.3v4.1M244.69 191.8v-4.1M244.69 138.3v4.1M270.01 191.8v-4.1M270.01 138.3v4.1M282.66 191.8v-4.1M282.66 138.3v4.1M295.32 191.8v-4.1M295.32 138.3v4.1M307.98 191.8v-4.1M307.98 138.3v4.1M333.29 191.8v-4.1M333.29 138.3v4.1M345.95 191.8v-4.1M345.95 138.3v4.1M358.60 191.8v-4.1M358.60 138.3v4.1M371.26 191.8v-4.1M371.26 138.3v4.1M396.57 191.8v-4.1M396.57 138.3v4.1M409.23 191.8v-4.1M409.23 138.3v4.1M421.89 191.8v-4.1M421.89 138.3v4.1M434.54 191.8v-4.1M434.54 138.3v4.1" stroke="#000" stroke-width="1.2" fill="none"/>
<path d="M67.50 191.8v-7.0M67.50 138.3v7.0M130.78 191.8v-7.0M130.78 138.3v7.0M194.07 191.8v-7.0M194.07 138.3v7.0M257.35 191.8v-7.0M257.35 138.3v7.0M320.63 191.8v-7.0M320.63 138.3v7.0M383.92 191.8v-7.0M383.92 138.3v7.0M447.20 191.8v-7.0M447.20 138.3v7.0" stroke="#000" stroke-width="1.5" fill="none"/>
<path d="M67.5 149.40h4.1M447.2 149.40h-4.1M67.5 160.50h4.1M447.2 160.50h-4.1M67.5 171.60h4.1M447.2 171.60h-4.1" stroke="#000" stroke-width="1.2" fill="none"/>
<path d="M67.5 138.30h7.0M447.2 138.30h-7.0M67.5 182.70h7.0M447.2 182.70h-7.0" stroke="#000" stroke-width="1.5" fill="none"/>
<rect x="67.5" y="138.3" width="379.7" height="53.5" fill="none" stroke="#000" stroke-width="1.75"/>
<path d="M79.37 454.7v-4.1M79.37 242.4v4.1M91.23 454.7v-4.1M91.23 242.4v4.1M103.10 454.7v-4.1M103.10 242.4v4.1M126.83 454.7v-4.1M126.83 242.4v4.1M138.69 454.7v-4.1M138.69 242.4v4.1M150.56 454.7v-4.1M150.56 242.4v4.1M174.29 454.7v-4.1M174.29 242.4v4.1M186.16 454.7v-4.1M186.16 242.4v4.1M198.02 454.7v-4.1M198.02 242.4v4.1M221.75 454.7v-4.1M221.75 242.4v4.1M233.62 454.7v-4.1M233.62 242.4v4.1M245.48 454.7v-4.1M245.48 242.4v4.1M269.22 454.7v-4.1M269.22 242.4v4.1M281.08 454.7v-4.1M281.08 242.4v4.1M292.95 454.7v-4.1M292.95 242.4v4.1M316.68 454.7v-4.1M316.68 242.4v4.1M328.54 454.7v-4.1M328.54 242.4v4.1M340.41 454.7v-4.1M340.41 242.4v4.1M364.14 454.7v-4.1M364.14 242.4v4.1M376.01 454.7v-4.1M376.01 242.4v4.1M387.87 454.7v-4.1M387.87 242.4v4.1M411.60 454.7v-4.1M411.60 242.4v4.1M423.47 454.7v-4.1M423.47 242.4v4.1M435.33 454.7v-4.1M435.33 242.4v4.1" stroke="#000" stroke-width="1.2" fill="none"/>
<path d="M67.50 454.7v-7.0M67.50 242.4v7.0M114.96 454.7v-7.0M114.96 242.4v7.0M162.43 454.7v-7.0M162.43 242.4v7.0M209.89 454.7v-7.0M209.89 242.4v7.0M257.35 454.7v-7.0M257.35 242.4v7.0M304.81 454.7v-7.0M304.81 242.4v7.0M352.27 454.7v-7.0M352.27 242.4v7.0M399.74 454.7v-7.0M399.74 242.4v7.0M447.20 454.7v-7.0M447.20 242.4v7.0" stroke="#000" stroke-width="1.5" fill="none"/>
<path d="M67.5 437.16h4.1M447.2 437.16h-4.1M67.5 427.17h4.1M447.2 427.17h-4.1M67.5 417.19h4.1M447.2 417.19h-4.1M67.5 407.20h4.1M447.2 407.20h-4.1M67.5 387.22h4.1M447.2 387.22h-4.1M67.5 377.23h4.1M447.2 377.23h-4.1M67.5 367.25h4.1M447.2 367.25h-4.1M67.5 357.26h4.1M447.2 357.26h-4.1M67.5 337.28h4.1M447.2 337.28h-4.1M67.5 327.29h4.1M447.2 327.29h-4.1M67.5 317.31h4.1M447.2 317.31h-4.1M67.5 307.32h4.1M447.2 307.32h-4.1M67.5 287.34h4.1M447.2 287.34h-4.1M67.5 277.35h4.1M447.2 277.35h-4.1M67.5 267.37h4.1M447.2 267.37h-4.1M67.5 257.38h4.1M447.2 257.38h-4.1" stroke="#000" stroke-width="1.2" fill="none"/>
<path d="M67.5 447.15h7.0M447.2 447.15h-7.0M67.5 397.21h7.0M447.2 397.21h-7.0M67.5 347.27h7.0M447.2 347.27h-7.0M67.5 297.33h7.0M447.2 297.33h-7.0M67.5 247.39h7.0M447.2 247.39h-7.0" stroke="#000" stroke-width="1.5" fill="none"/>
<rect x="67.5" y="242.4" width="379.7" height="212.29999999999998" fill="none" stroke="#000" stroke-width="1.75"/>
<text x="28.6" y="28.6" font-size="15.6" text-anchor="start" textLength="32.2" lengthAdjust="spacingAndGlyphs" >1.100</text>
<text x="28.6" y="72.75" font-size="15.6" text-anchor="start" textLength="32.2" lengthAdjust="spacingAndGlyphs" >1.098</text>
<text x="28.6" y="116.9" font-size="15.6" text-anchor="start" textLength="32.2" lengthAdjust="spacingAndGlyphs" >1.096</text>
<text x="22.0" y="144.6" font-size="15.6" text-anchor="start" textLength="38.6" lengthAdjust="spacingAndGlyphs" >0.0050</text>
<text x="22.0" y="189.0" font-size="15.6" text-anchor="start" textLength="38.6" lengthAdjust="spacingAndGlyphs" >0.0025</text>
<text x="53.2" y="209.8" font-size="15.6" text-anchor="start" textLength="24.8" lengthAdjust="spacingAndGlyphs" >0.87</text>
<text x="116.48333333333333" y="209.8" font-size="15.6" text-anchor="start" textLength="24.8" lengthAdjust="spacingAndGlyphs" >0.88</text>
<text x="179.76666666666665" y="209.8" font-size="15.6" text-anchor="start" textLength="24.8" lengthAdjust="spacingAndGlyphs" >0.89</text>
<text x="243.05" y="209.8" font-size="15.6" text-anchor="start" textLength="24.8" lengthAdjust="spacingAndGlyphs" >0.90</text>
<text x="306.3333333333333" y="209.8" font-size="15.6" text-anchor="start" textLength="24.8" lengthAdjust="spacingAndGlyphs" >0.91</text>
<text x="369.6166666666666" y="209.8" font-size="15.6" text-anchor="start" textLength="24.8" lengthAdjust="spacingAndGlyphs" >0.92</text>
<text x="432.9" y="209.8" font-size="15.6" text-anchor="start" textLength="24.8" lengthAdjust="spacingAndGlyphs" >0.93</text>
<text x="252.1" y="230.6" font-size="15.6" text-anchor="start" textLength="9" lengthAdjust="spacingAndGlyphs" ><tspan font-style="italic">α</tspan></text>
<text x="39.8" y="452.95" font-size="15.6" text-anchor="start" textLength="18.0" lengthAdjust="spacingAndGlyphs" >0.0</text>
<text x="39.8" y="403.01" font-size="15.6" text-anchor="start" textLength="18.0" lengthAdjust="spacingAndGlyphs" >0.1</text>
<text x="39.8" y="353.07" font-size="15.6" text-anchor="start" textLength="18.0" lengthAdjust="spacingAndGlyphs" >0.2</text>
<text x="39.8" y="303.13" font-size="15.6" text-anchor="start" textLength="18.0" lengthAdjust="spacingAndGlyphs" >0.3</text>
<text x="39.8" y="253.19" font-size="15.6" text-anchor="start" textLength="18.0" lengthAdjust="spacingAndGlyphs" >0.4</text>
<text x="47.0" y="474.09999999999997" font-size="15.6" text-anchor="start" textLength="12.4" lengthAdjust="spacingAndGlyphs" >−</text>
<text x="58.800000000000004" y="472.7" font-size="15.6" text-anchor="start" textLength="25.0" lengthAdjust="spacingAndGlyphs" >10.0</text>
<text x="98.6625" y="474.09999999999997" font-size="15.6" text-anchor="start" textLength="12.4" lengthAdjust="spacingAndGlyphs" >−</text>
<text x="110.4625" y="472.7" font-size="15.6" text-anchor="start" textLength="18.8" lengthAdjust="spacingAndGlyphs" >7.5</text>
<text x="146.125" y="474.09999999999997" font-size="15.6" text-anchor="start" textLength="12.4" lengthAdjust="spacingAndGlyphs" >−</text>
<text x="157.925" y="472.7" font-size="15.6" text-anchor="start" textLength="18.8" lengthAdjust="spacingAndGlyphs" >5.0</text>
<text x="193.58749999999998" y="474.09999999999997" font-size="15.6" text-anchor="start" textLength="12.4" lengthAdjust="spacingAndGlyphs" >−</text>
<text x="205.3875" y="472.7" font-size="15.6" text-anchor="start" textLength="18.8" lengthAdjust="spacingAndGlyphs" >2.5</text>
<text x="246.95000000000002" y="472.7" font-size="15.6" text-anchor="start" textLength="18.8" lengthAdjust="spacingAndGlyphs" >0.0</text>
<text x="294.41249999999997" y="472.7" font-size="15.6" text-anchor="start" textLength="18.8" lengthAdjust="spacingAndGlyphs" >2.5</text>
<text x="341.87499999999994" y="472.7" font-size="15.6" text-anchor="start" textLength="18.8" lengthAdjust="spacingAndGlyphs" >5.0</text>
<text x="389.3375" y="472.7" font-size="15.6" text-anchor="start" textLength="18.8" lengthAdjust="spacingAndGlyphs" >7.5</text>
<text x="432.8" y="472.7" font-size="15.6" text-anchor="start" textLength="25.0" lengthAdjust="spacingAndGlyphs" >10.0</text>
<text x="196.4" y="493.5" font-size="15.6" text-anchor="start" textLength="53.2" lengthAdjust="spacingAndGlyphs" >Position,</text>
<text x="255.0" y="493.5" font-size="15.6" text-anchor="start" textLength="8.2" lengthAdjust="spacingAndGlyphs" ><tspan font-style="italic">x</tspan></text>
<text x="267.6" y="493.5" font-size="15.6" text-anchor="start" textLength="33.2" lengthAdjust="spacingAndGlyphs" >(a.u.)</text>
<text x="0" y="0" font-size="15.6" text-anchor="start" textLength="80.9" lengthAdjust="spacingAndGlyphs" transform="translate(17.2 114) rotate(-90)">Energy (a.u.)</text>
<text x="0" y="0" font-size="17.4" text-anchor="start" textLength="12.0" lengthAdjust="spacingAndGlyphs" transform="translate(10.7 176.3) rotate(-90)">Δ</text>
<text x="0" y="0" font-size="15.6" text-anchor="start" textLength="8.0" lengthAdjust="spacingAndGlyphs" transform="translate(10.7 163.5) rotate(-90)"><tspan font-style="italic">ρ</tspan></text>
<text x="0" y="0" font-size="15.6" text-anchor="start" textLength="48.8" lengthAdjust="spacingAndGlyphs" transform="translate(29.0 383.0) rotate(-90)">Density,</text>
<text x="0" y="0" font-size="15.6" text-anchor="start" textLength="7.8" lengthAdjust="spacingAndGlyphs" transform="translate(29.0 331.2) rotate(-90)"><tspan font-style="italic">ρ</tspan></text>
</svg></body></html>
